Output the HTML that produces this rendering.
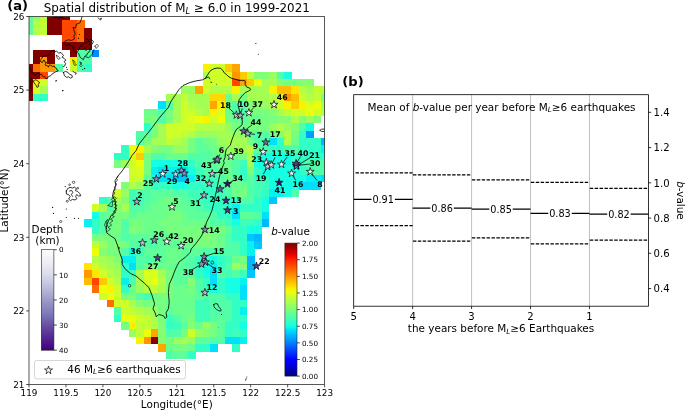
<!DOCTYPE html><html><head><meta charset="utf-8"><title>Figure</title>
<style>html,body{margin:0;padding:0;background:#fff}svg{display:block}text{font-family:"DejaVu Sans","Liberation Sans",sans-serif;fill:#000}.b{font-weight:bold}.i{font-style:italic}.lab{font-size:7.8px;font-weight:bold;text-anchor:middle}.tk{font-size:10.1px}</style></head><body>
<svg width="685" height="411" viewBox="0 0 685 411">
<defs><clipPath id="ax"><rect x="29.00" y="16.50" width="295.60" height="368.00"/></clipPath>
<linearGradient id="purp" x1="0" y1="0" x2="0" y2="1"><stop offset="0" stop-color="#fcfbfd"/><stop offset="0.125" stop-color="#efedf5"/><stop offset="0.25" stop-color="#dadaeb"/><stop offset="0.375" stop-color="#bcbddc"/><stop offset="0.5" stop-color="#9e9ac8"/><stop offset="0.625" stop-color="#807dba"/><stop offset="0.75" stop-color="#6a51a3"/><stop offset="0.875" stop-color="#54278f"/><stop offset="1" stop-color="#3f007d"/></linearGradient>
<linearGradient id="jet" x1="0" y1="0" x2="0" y2="1"><stop offset="0.000" stop-color="rgb(128,0,0)"/><stop offset="0.025" stop-color="rgb(156,0,0)"/><stop offset="0.050" stop-color="rgb(185,0,0)"/><stop offset="0.075" stop-color="rgb(214,0,0)"/><stop offset="0.100" stop-color="rgb(243,9,0)"/><stop offset="0.125" stop-color="rgb(255,33,0)"/><stop offset="0.150" stop-color="rgb(255,57,0)"/><stop offset="0.175" stop-color="rgb(255,80,0)"/><stop offset="0.200" stop-color="rgb(255,104,0)"/><stop offset="0.225" stop-color="rgb(255,128,0)"/><stop offset="0.250" stop-color="rgb(255,151,0)"/><stop offset="0.275" stop-color="rgb(255,175,0)"/><stop offset="0.300" stop-color="rgb(255,198,0)"/><stop offset="0.325" stop-color="rgb(255,222,0)"/><stop offset="0.350" stop-color="rgb(247,246,0)"/><stop offset="0.375" stop-color="rgb(226,255,21)"/><stop offset="0.400" stop-color="rgb(206,255,41)"/><stop offset="0.425" stop-color="rgb(185,255,62)"/><stop offset="0.450" stop-color="rgb(165,255,82)"/><stop offset="0.475" stop-color="rgb(144,255,103)"/><stop offset="0.500" stop-color="rgb(123,255,123)"/><stop offset="0.525" stop-color="rgb(103,255,144)"/><stop offset="0.550" stop-color="rgb(82,255,165)"/><stop offset="0.575" stop-color="rgb(62,255,185)"/><stop offset="0.600" stop-color="rgb(41,255,206)"/><stop offset="0.625" stop-color="rgb(21,255,226)"/><stop offset="0.650" stop-color="rgb(0,229,247)"/><stop offset="0.675" stop-color="rgb(0,204,255)"/><stop offset="0.700" stop-color="rgb(0,178,255)"/><stop offset="0.725" stop-color="rgb(0,153,255)"/><stop offset="0.750" stop-color="rgb(0,128,255)"/><stop offset="0.775" stop-color="rgb(0,102,255)"/><stop offset="0.800" stop-color="rgb(0,76,255)"/><stop offset="0.825" stop-color="rgb(0,51,255)"/><stop offset="0.850" stop-color="rgb(0,25,255)"/><stop offset="0.875" stop-color="rgb(0,0,255)"/><stop offset="0.900" stop-color="rgb(0,0,243)"/><stop offset="0.925" stop-color="rgb(0,0,214)"/><stop offset="0.950" stop-color="rgb(0,0,185)"/><stop offset="0.975" stop-color="rgb(0,0,156)"/><stop offset="1.000" stop-color="rgb(0,0,128)"/></linearGradient>
<path id="st" d="M0,-4.2 L0.94,-1.3 L3.99,-1.3 L1.52,0.5 L2.47,3.4 L0,1.6 L-2.47,3.4 L-1.52,0.5 L-3.99,-1.3 L-0.94,-1.3 Z"/>
</defs>
<rect width="685" height="411" fill="#fff"/>
<g clip-path="url(#ax)" shape-rendering="crispEdges">
<rect x="25.30" y="12.82" width="7.64" height="7.61" fill="rgb(93,255,154)"/>
<rect x="32.70" y="12.82" width="7.64" height="7.61" fill="rgb(132,255,115)"/>
<rect x="40.09" y="12.82" width="7.64" height="7.61" fill="rgb(193,255,53)"/>
<rect x="47.48" y="12.82" width="7.64" height="7.61" fill="rgb(128,0,0)"/>
<rect x="54.87" y="12.82" width="7.64" height="7.61" fill="rgb(128,0,0)"/>
<rect x="62.26" y="12.82" width="7.64" height="7.61" fill="rgb(128,0,0)"/>
<rect x="25.30" y="20.18" width="7.64" height="7.61" fill="rgb(93,255,154)"/>
<rect x="32.70" y="20.18" width="7.64" height="7.61" fill="rgb(177,255,70)"/>
<rect x="40.09" y="20.18" width="7.64" height="7.61" fill="rgb(193,255,53)"/>
<rect x="47.48" y="20.18" width="7.64" height="7.61" fill="rgb(128,0,0)"/>
<rect x="54.87" y="20.18" width="7.64" height="7.61" fill="rgb(128,0,0)"/>
<rect x="62.26" y="20.18" width="7.64" height="7.61" fill="rgb(255,71,0)"/>
<rect x="69.65" y="20.18" width="7.64" height="7.61" fill="rgb(255,71,0)"/>
<rect x="77.03" y="20.18" width="7.64" height="7.61" fill="rgb(255,109,0)"/>
<rect x="25.30" y="27.54" width="7.64" height="7.61" fill="rgb(93,255,154)"/>
<rect x="32.70" y="27.54" width="7.64" height="7.61" fill="rgb(177,255,70)"/>
<rect x="40.09" y="27.54" width="7.64" height="7.61" fill="rgb(193,255,53)"/>
<rect x="47.48" y="27.54" width="7.64" height="7.61" fill="rgb(128,0,0)"/>
<rect x="54.87" y="27.54" width="7.64" height="7.61" fill="rgb(128,0,0)"/>
<rect x="62.26" y="27.54" width="7.64" height="7.61" fill="rgb(255,71,0)"/>
<rect x="69.65" y="27.54" width="7.64" height="7.61" fill="rgb(255,71,0)"/>
<rect x="77.03" y="27.54" width="7.64" height="7.61" fill="rgb(255,109,0)"/>
<rect x="84.43" y="27.54" width="7.64" height="7.61" fill="rgb(128,0,0)"/>
<rect x="62.26" y="34.90" width="7.64" height="7.61" fill="rgb(255,71,0)"/>
<rect x="69.65" y="34.90" width="7.64" height="7.61" fill="rgb(255,71,0)"/>
<rect x="77.03" y="34.90" width="7.64" height="7.61" fill="rgb(255,109,0)"/>
<rect x="84.43" y="34.90" width="7.64" height="7.61" fill="rgb(128,0,0)"/>
<rect x="62.26" y="42.26" width="7.64" height="7.61" fill="rgb(128,0,0)"/>
<rect x="69.65" y="42.26" width="7.64" height="7.61" fill="rgb(128,0,0)"/>
<rect x="77.03" y="42.26" width="7.64" height="7.61" fill="rgb(128,0,0)"/>
<rect x="84.43" y="42.26" width="7.64" height="7.61" fill="rgb(128,0,0)"/>
<rect x="32.70" y="49.62" width="7.64" height="7.61" fill="rgb(128,0,0)"/>
<rect x="40.09" y="49.62" width="7.64" height="7.61" fill="rgb(128,0,0)"/>
<rect x="47.48" y="49.62" width="7.64" height="7.61" fill="rgb(128,0,0)"/>
<rect x="69.65" y="49.62" width="7.64" height="7.61" fill="rgb(128,0,0)"/>
<rect x="77.03" y="49.62" width="7.64" height="7.61" fill="rgb(80,255,167)"/>
<rect x="84.43" y="49.62" width="7.64" height="7.61" fill="rgb(80,255,167)"/>
<rect x="91.81" y="49.62" width="7.64" height="7.61" fill="rgb(0,140,255)"/>
<rect x="32.70" y="56.98" width="7.64" height="7.61" fill="rgb(128,0,0)"/>
<rect x="40.09" y="56.98" width="7.64" height="7.61" fill="rgb(255,151,0)"/>
<rect x="47.48" y="56.98" width="7.64" height="7.61" fill="rgb(128,0,0)"/>
<rect x="69.65" y="56.98" width="7.64" height="7.61" fill="rgb(249,243,0)"/>
<rect x="77.03" y="56.98" width="7.64" height="7.61" fill="rgb(80,255,167)"/>
<rect x="84.43" y="56.98" width="7.64" height="7.61" fill="rgb(80,255,167)"/>
<rect x="25.30" y="64.34" width="7.64" height="7.61" fill="rgb(128,0,0)"/>
<rect x="32.70" y="64.34" width="7.64" height="7.61" fill="rgb(255,109,0)"/>
<rect x="40.09" y="64.34" width="7.64" height="7.61" fill="rgb(255,151,0)"/>
<rect x="47.48" y="64.34" width="7.64" height="7.61" fill="rgb(255,151,0)"/>
<rect x="54.87" y="64.34" width="7.64" height="7.61" fill="rgb(80,255,167)"/>
<rect x="69.65" y="64.34" width="7.64" height="7.61" fill="rgb(206,255,41)"/>
<rect x="77.03" y="64.34" width="7.64" height="7.61" fill="rgb(80,255,167)"/>
<rect x="84.43" y="64.34" width="7.64" height="7.61" fill="rgb(49,255,197)"/>
<rect x="202.67" y="64.34" width="7.64" height="7.61" fill="rgb(249,243,0)"/>
<rect x="210.06" y="64.34" width="7.64" height="7.61" fill="rgb(206,255,41)"/>
<rect x="217.45" y="64.34" width="7.64" height="7.61" fill="rgb(206,255,41)"/>
<rect x="224.84" y="64.34" width="7.64" height="7.61" fill="rgb(255,203,0)"/>
<rect x="232.23" y="64.34" width="7.64" height="7.61" fill="rgb(255,165,0)"/>
<rect x="25.30" y="71.70" width="7.64" height="7.61" fill="rgb(128,0,0)"/>
<rect x="32.70" y="71.70" width="7.64" height="7.61" fill="rgb(128,0,0)"/>
<rect x="40.09" y="71.70" width="7.64" height="7.61" fill="rgb(255,71,0)"/>
<rect x="202.67" y="71.70" width="7.64" height="7.61" fill="rgb(165,255,82)"/>
<rect x="210.06" y="71.70" width="7.64" height="7.61" fill="rgb(206,255,41)"/>
<rect x="217.45" y="71.70" width="7.64" height="7.61" fill="rgb(206,255,41)"/>
<rect x="224.84" y="71.70" width="7.64" height="7.61" fill="rgb(218,255,29)"/>
<rect x="232.23" y="71.70" width="7.64" height="7.61" fill="rgb(255,151,0)"/>
<rect x="239.62" y="71.70" width="7.64" height="7.61" fill="rgb(255,203,0)"/>
<rect x="247.01" y="71.70" width="7.64" height="7.61" fill="rgb(193,255,53)"/>
<rect x="254.40" y="71.70" width="7.64" height="7.61" fill="rgb(132,255,115)"/>
<rect x="261.79" y="71.70" width="7.64" height="7.61" fill="rgb(132,255,115)"/>
<rect x="269.18" y="71.70" width="7.64" height="7.61" fill="rgb(152,255,95)"/>
<rect x="276.57" y="71.70" width="7.64" height="7.61" fill="rgb(80,255,167)"/>
<rect x="283.96" y="71.70" width="7.64" height="7.61" fill="rgb(21,255,226)"/>
<rect x="25.30" y="79.06" width="7.64" height="7.61" fill="rgb(128,0,0)"/>
<rect x="32.70" y="79.06" width="7.64" height="7.61" fill="rgb(249,243,0)"/>
<rect x="40.09" y="79.06" width="7.64" height="7.61" fill="rgb(206,255,41)"/>
<rect x="202.67" y="79.06" width="7.64" height="7.61" fill="rgb(206,255,41)"/>
<rect x="210.06" y="79.06" width="7.64" height="7.61" fill="rgb(206,255,41)"/>
<rect x="217.45" y="79.06" width="7.64" height="7.61" fill="rgb(206,255,41)"/>
<rect x="224.84" y="79.06" width="7.64" height="7.61" fill="rgb(206,255,41)"/>
<rect x="232.23" y="79.06" width="7.64" height="7.61" fill="rgb(255,71,0)"/>
<rect x="239.62" y="79.06" width="7.64" height="7.61" fill="rgb(255,165,0)"/>
<rect x="247.01" y="79.06" width="7.64" height="7.61" fill="rgb(255,203,0)"/>
<rect x="254.40" y="79.06" width="7.64" height="7.61" fill="rgb(236,255,10)"/>
<rect x="261.79" y="79.06" width="7.64" height="7.61" fill="rgb(165,255,82)"/>
<rect x="269.18" y="79.06" width="7.64" height="7.61" fill="rgb(165,255,82)"/>
<rect x="276.57" y="79.06" width="7.64" height="7.61" fill="rgb(132,255,115)"/>
<rect x="283.96" y="79.06" width="7.64" height="7.61" fill="rgb(119,255,128)"/>
<rect x="291.35" y="79.06" width="7.64" height="7.61" fill="rgb(119,255,128)"/>
<rect x="298.74" y="79.06" width="7.64" height="7.61" fill="rgb(132,255,115)"/>
<rect x="306.12" y="79.06" width="7.64" height="7.61" fill="rgb(132,255,115)"/>
<rect x="25.30" y="86.42" width="7.64" height="7.61" fill="rgb(128,0,0)"/>
<rect x="32.70" y="86.42" width="7.64" height="7.61" fill="rgb(218,255,29)"/>
<rect x="40.09" y="86.42" width="7.64" height="7.61" fill="rgb(165,255,82)"/>
<rect x="180.50" y="86.42" width="7.64" height="7.61" fill="rgb(152,255,95)"/>
<rect x="187.89" y="86.42" width="7.64" height="7.61" fill="rgb(152,255,95)"/>
<rect x="195.28" y="86.42" width="7.64" height="7.61" fill="rgb(255,165,0)"/>
<rect x="202.67" y="86.42" width="7.64" height="7.61" fill="rgb(206,255,41)"/>
<rect x="210.06" y="86.42" width="7.64" height="7.61" fill="rgb(177,255,70)"/>
<rect x="217.45" y="86.42" width="7.64" height="7.61" fill="rgb(177,255,70)"/>
<rect x="224.84" y="86.42" width="7.64" height="7.61" fill="rgb(177,255,70)"/>
<rect x="232.23" y="86.42" width="7.64" height="7.61" fill="rgb(249,243,0)"/>
<rect x="239.62" y="86.42" width="7.64" height="7.61" fill="rgb(165,255,82)"/>
<rect x="247.01" y="86.42" width="7.64" height="7.61" fill="rgb(165,255,82)"/>
<rect x="254.40" y="86.42" width="7.64" height="7.61" fill="rgb(165,255,82)"/>
<rect x="261.79" y="86.42" width="7.64" height="7.61" fill="rgb(165,255,82)"/>
<rect x="269.18" y="86.42" width="7.64" height="7.61" fill="rgb(249,243,0)"/>
<rect x="276.57" y="86.42" width="7.64" height="7.61" fill="rgb(255,189,0)"/>
<rect x="283.96" y="86.42" width="7.64" height="7.61" fill="rgb(255,189,0)"/>
<rect x="291.35" y="86.42" width="7.64" height="7.61" fill="rgb(255,229,0)"/>
<rect x="298.74" y="86.42" width="7.64" height="7.61" fill="rgb(177,255,70)"/>
<rect x="306.12" y="86.42" width="7.64" height="7.61" fill="rgb(165,255,82)"/>
<rect x="313.52" y="86.42" width="7.64" height="7.61" fill="rgb(193,255,53)"/>
<rect x="320.91" y="86.42" width="7.64" height="7.61" fill="rgb(177,255,70)"/>
<rect x="25.30" y="93.78" width="7.64" height="7.61" fill="rgb(128,0,0)"/>
<rect x="32.70" y="93.78" width="7.64" height="7.61" fill="rgb(49,255,197)"/>
<rect x="40.09" y="93.78" width="7.64" height="7.61" fill="rgb(49,255,197)"/>
<rect x="165.72" y="93.78" width="7.64" height="7.61" fill="rgb(165,255,82)"/>
<rect x="173.11" y="93.78" width="7.64" height="7.61" fill="rgb(165,255,82)"/>
<rect x="180.50" y="93.78" width="7.64" height="7.61" fill="rgb(193,255,53)"/>
<rect x="187.89" y="93.78" width="7.64" height="7.61" fill="rgb(165,255,82)"/>
<rect x="195.28" y="93.78" width="7.64" height="7.61" fill="rgb(165,255,82)"/>
<rect x="202.67" y="93.78" width="7.64" height="7.61" fill="rgb(165,255,82)"/>
<rect x="210.06" y="93.78" width="7.64" height="7.61" fill="rgb(255,217,0)"/>
<rect x="217.45" y="93.78" width="7.64" height="7.61" fill="rgb(255,217,0)"/>
<rect x="224.84" y="93.78" width="7.64" height="7.61" fill="rgb(107,255,140)"/>
<rect x="232.23" y="93.78" width="7.64" height="7.61" fill="rgb(165,255,82)"/>
<rect x="239.62" y="93.78" width="7.64" height="7.61" fill="rgb(119,255,128)"/>
<rect x="247.01" y="93.78" width="7.64" height="7.61" fill="rgb(165,255,82)"/>
<rect x="254.40" y="93.78" width="7.64" height="7.61" fill="rgb(165,255,82)"/>
<rect x="261.79" y="93.78" width="7.64" height="7.61" fill="rgb(165,255,82)"/>
<rect x="269.18" y="93.78" width="7.64" height="7.61" fill="rgb(177,255,70)"/>
<rect x="276.57" y="93.78" width="7.64" height="7.61" fill="rgb(218,255,29)"/>
<rect x="283.96" y="93.78" width="7.64" height="7.61" fill="rgb(255,151,0)"/>
<rect x="291.35" y="93.78" width="7.64" height="7.61" fill="rgb(255,189,0)"/>
<rect x="298.74" y="93.78" width="7.64" height="7.61" fill="rgb(206,255,41)"/>
<rect x="306.12" y="93.78" width="7.64" height="7.61" fill="rgb(177,255,70)"/>
<rect x="313.52" y="93.78" width="7.64" height="7.61" fill="rgb(193,255,53)"/>
<rect x="320.91" y="93.78" width="7.64" height="7.61" fill="rgb(119,255,128)"/>
<rect x="158.33" y="101.14" width="7.64" height="7.61" fill="rgb(0,224,251)"/>
<rect x="165.72" y="101.14" width="7.64" height="7.61" fill="rgb(80,255,167)"/>
<rect x="173.11" y="101.14" width="7.64" height="7.61" fill="rgb(165,255,82)"/>
<rect x="180.50" y="101.14" width="7.64" height="7.61" fill="rgb(206,255,41)"/>
<rect x="187.89" y="101.14" width="7.64" height="7.61" fill="rgb(177,255,70)"/>
<rect x="195.28" y="101.14" width="7.64" height="7.61" fill="rgb(165,255,82)"/>
<rect x="202.67" y="101.14" width="7.64" height="7.61" fill="rgb(165,255,82)"/>
<rect x="210.06" y="101.14" width="7.64" height="7.61" fill="rgb(255,165,0)"/>
<rect x="217.45" y="101.14" width="7.64" height="7.61" fill="rgb(249,243,0)"/>
<rect x="224.84" y="101.14" width="7.64" height="7.61" fill="rgb(107,255,140)"/>
<rect x="232.23" y="101.14" width="7.64" height="7.61" fill="rgb(80,255,167)"/>
<rect x="239.62" y="101.14" width="7.64" height="7.61" fill="rgb(80,255,167)"/>
<rect x="247.01" y="101.14" width="7.64" height="7.61" fill="rgb(132,255,115)"/>
<rect x="254.40" y="101.14" width="7.64" height="7.61" fill="rgb(132,255,115)"/>
<rect x="261.79" y="101.14" width="7.64" height="7.61" fill="rgb(152,255,95)"/>
<rect x="269.18" y="101.14" width="7.64" height="7.61" fill="rgb(165,255,82)"/>
<rect x="276.57" y="101.14" width="7.64" height="7.61" fill="rgb(206,255,41)"/>
<rect x="283.96" y="101.14" width="7.64" height="7.61" fill="rgb(249,243,0)"/>
<rect x="291.35" y="101.14" width="7.64" height="7.61" fill="rgb(255,203,0)"/>
<rect x="298.74" y="101.14" width="7.64" height="7.61" fill="rgb(249,243,0)"/>
<rect x="306.12" y="101.14" width="7.64" height="7.61" fill="rgb(218,255,29)"/>
<rect x="313.52" y="101.14" width="7.64" height="7.61" fill="rgb(236,255,10)"/>
<rect x="320.91" y="101.14" width="7.64" height="7.61" fill="rgb(165,255,82)"/>
<rect x="143.55" y="108.50" width="7.64" height="7.61" fill="rgb(107,255,140)"/>
<rect x="150.94" y="108.50" width="7.64" height="7.61" fill="rgb(107,255,140)"/>
<rect x="158.33" y="108.50" width="7.64" height="7.61" fill="rgb(80,255,167)"/>
<rect x="165.72" y="108.50" width="7.64" height="7.61" fill="rgb(119,255,128)"/>
<rect x="173.11" y="108.50" width="7.64" height="7.61" fill="rgb(165,255,82)"/>
<rect x="180.50" y="108.50" width="7.64" height="7.61" fill="rgb(206,255,41)"/>
<rect x="187.89" y="108.50" width="7.64" height="7.61" fill="rgb(206,255,41)"/>
<rect x="195.28" y="108.50" width="7.64" height="7.61" fill="rgb(177,255,70)"/>
<rect x="202.67" y="108.50" width="7.64" height="7.61" fill="rgb(165,255,82)"/>
<rect x="210.06" y="108.50" width="7.64" height="7.61" fill="rgb(249,243,0)"/>
<rect x="217.45" y="108.50" width="7.64" height="7.61" fill="rgb(218,255,29)"/>
<rect x="224.84" y="108.50" width="7.64" height="7.61" fill="rgb(107,255,140)"/>
<rect x="232.23" y="108.50" width="7.64" height="7.61" fill="rgb(80,255,167)"/>
<rect x="239.62" y="108.50" width="7.64" height="7.61" fill="rgb(80,255,167)"/>
<rect x="247.01" y="108.50" width="7.64" height="7.61" fill="rgb(119,255,128)"/>
<rect x="254.40" y="108.50" width="7.64" height="7.61" fill="rgb(119,255,128)"/>
<rect x="261.79" y="108.50" width="7.64" height="7.61" fill="rgb(119,255,128)"/>
<rect x="269.18" y="108.50" width="7.64" height="7.61" fill="rgb(132,255,115)"/>
<rect x="276.57" y="108.50" width="7.64" height="7.61" fill="rgb(165,255,82)"/>
<rect x="283.96" y="108.50" width="7.64" height="7.61" fill="rgb(193,255,53)"/>
<rect x="291.35" y="108.50" width="7.64" height="7.61" fill="rgb(206,255,41)"/>
<rect x="298.74" y="108.50" width="7.64" height="7.61" fill="rgb(206,255,41)"/>
<rect x="306.12" y="108.50" width="7.64" height="7.61" fill="rgb(236,255,10)"/>
<rect x="313.52" y="108.50" width="7.64" height="7.61" fill="rgb(206,255,41)"/>
<rect x="320.91" y="108.50" width="7.64" height="7.61" fill="rgb(177,255,70)"/>
<rect x="143.55" y="115.86" width="7.64" height="7.61" fill="rgb(119,255,128)"/>
<rect x="150.94" y="115.86" width="7.64" height="7.61" fill="rgb(119,255,128)"/>
<rect x="158.33" y="115.86" width="7.64" height="7.61" fill="rgb(80,255,167)"/>
<rect x="165.72" y="115.86" width="7.64" height="7.61" fill="rgb(119,255,128)"/>
<rect x="173.11" y="115.86" width="7.64" height="7.61" fill="rgb(165,255,82)"/>
<rect x="180.50" y="115.86" width="7.64" height="7.61" fill="rgb(206,255,41)"/>
<rect x="187.89" y="115.86" width="7.64" height="7.61" fill="rgb(218,255,29)"/>
<rect x="195.28" y="115.86" width="7.64" height="7.61" fill="rgb(236,255,10)"/>
<rect x="202.67" y="115.86" width="7.64" height="7.61" fill="rgb(249,243,0)"/>
<rect x="210.06" y="115.86" width="7.64" height="7.61" fill="rgb(206,255,41)"/>
<rect x="217.45" y="115.86" width="7.64" height="7.61" fill="rgb(236,255,10)"/>
<rect x="224.84" y="115.86" width="7.64" height="7.61" fill="rgb(119,255,128)"/>
<rect x="232.23" y="115.86" width="7.64" height="7.61" fill="rgb(107,255,140)"/>
<rect x="239.62" y="115.86" width="7.64" height="7.61" fill="rgb(93,255,154)"/>
<rect x="247.01" y="115.86" width="7.64" height="7.61" fill="rgb(107,255,140)"/>
<rect x="254.40" y="115.86" width="7.64" height="7.61" fill="rgb(107,255,140)"/>
<rect x="261.79" y="115.86" width="7.64" height="7.61" fill="rgb(119,255,128)"/>
<rect x="269.18" y="115.86" width="7.64" height="7.61" fill="rgb(119,255,128)"/>
<rect x="276.57" y="115.86" width="7.64" height="7.61" fill="rgb(132,255,115)"/>
<rect x="283.96" y="115.86" width="7.64" height="7.61" fill="rgb(132,255,115)"/>
<rect x="291.35" y="115.86" width="7.64" height="7.61" fill="rgb(177,255,70)"/>
<rect x="298.74" y="115.86" width="7.64" height="7.61" fill="rgb(132,255,115)"/>
<rect x="306.12" y="115.86" width="7.64" height="7.61" fill="rgb(152,255,95)"/>
<rect x="313.52" y="115.86" width="7.64" height="7.61" fill="rgb(132,255,115)"/>
<rect x="143.55" y="123.22" width="7.64" height="7.61" fill="rgb(49,255,197)"/>
<rect x="150.94" y="123.22" width="7.64" height="7.61" fill="rgb(119,255,128)"/>
<rect x="158.33" y="123.22" width="7.64" height="7.61" fill="rgb(165,255,82)"/>
<rect x="165.72" y="123.22" width="7.64" height="7.61" fill="rgb(206,255,41)"/>
<rect x="173.11" y="123.22" width="7.64" height="7.61" fill="rgb(206,255,41)"/>
<rect x="180.50" y="123.22" width="7.64" height="7.61" fill="rgb(206,255,41)"/>
<rect x="187.89" y="123.22" width="7.64" height="7.61" fill="rgb(206,255,41)"/>
<rect x="195.28" y="123.22" width="7.64" height="7.61" fill="rgb(177,255,70)"/>
<rect x="202.67" y="123.22" width="7.64" height="7.61" fill="rgb(177,255,70)"/>
<rect x="210.06" y="123.22" width="7.64" height="7.61" fill="rgb(177,255,70)"/>
<rect x="217.45" y="123.22" width="7.64" height="7.61" fill="rgb(177,255,70)"/>
<rect x="224.84" y="123.22" width="7.64" height="7.61" fill="rgb(152,255,95)"/>
<rect x="232.23" y="123.22" width="7.64" height="7.61" fill="rgb(119,255,128)"/>
<rect x="239.62" y="123.22" width="7.64" height="7.61" fill="rgb(107,255,140)"/>
<rect x="247.01" y="123.22" width="7.64" height="7.61" fill="rgb(119,255,128)"/>
<rect x="254.40" y="123.22" width="7.64" height="7.61" fill="rgb(119,255,128)"/>
<rect x="261.79" y="123.22" width="7.64" height="7.61" fill="rgb(119,255,128)"/>
<rect x="269.18" y="123.22" width="7.64" height="7.61" fill="rgb(152,255,95)"/>
<rect x="276.57" y="123.22" width="7.64" height="7.61" fill="rgb(177,255,70)"/>
<rect x="283.96" y="123.22" width="7.64" height="7.61" fill="rgb(152,255,95)"/>
<rect x="291.35" y="123.22" width="7.64" height="7.61" fill="rgb(132,255,115)"/>
<rect x="298.74" y="123.22" width="7.64" height="7.61" fill="rgb(80,255,167)"/>
<rect x="306.12" y="123.22" width="7.64" height="7.61" fill="rgb(21,255,226)"/>
<rect x="136.16" y="130.58" width="7.64" height="7.61" fill="rgb(80,255,167)"/>
<rect x="143.55" y="130.58" width="7.64" height="7.61" fill="rgb(93,255,154)"/>
<rect x="150.94" y="130.58" width="7.64" height="7.61" fill="rgb(119,255,128)"/>
<rect x="158.33" y="130.58" width="7.64" height="7.61" fill="rgb(165,255,82)"/>
<rect x="165.72" y="130.58" width="7.64" height="7.61" fill="rgb(206,255,41)"/>
<rect x="173.11" y="130.58" width="7.64" height="7.61" fill="rgb(206,255,41)"/>
<rect x="180.50" y="130.58" width="7.64" height="7.61" fill="rgb(193,255,53)"/>
<rect x="187.89" y="130.58" width="7.64" height="7.61" fill="rgb(177,255,70)"/>
<rect x="195.28" y="130.58" width="7.64" height="7.61" fill="rgb(152,255,95)"/>
<rect x="202.67" y="130.58" width="7.64" height="7.61" fill="rgb(152,255,95)"/>
<rect x="210.06" y="130.58" width="7.64" height="7.61" fill="rgb(152,255,95)"/>
<rect x="217.45" y="130.58" width="7.64" height="7.61" fill="rgb(165,255,82)"/>
<rect x="224.84" y="130.58" width="7.64" height="7.61" fill="rgb(165,255,82)"/>
<rect x="232.23" y="130.58" width="7.64" height="7.61" fill="rgb(152,255,95)"/>
<rect x="239.62" y="130.58" width="7.64" height="7.61" fill="rgb(152,255,95)"/>
<rect x="247.01" y="130.58" width="7.64" height="7.61" fill="rgb(93,255,154)"/>
<rect x="254.40" y="130.58" width="7.64" height="7.61" fill="rgb(80,255,167)"/>
<rect x="261.79" y="130.58" width="7.64" height="7.61" fill="rgb(80,255,167)"/>
<rect x="269.18" y="130.58" width="7.64" height="7.61" fill="rgb(119,255,128)"/>
<rect x="276.57" y="130.58" width="7.64" height="7.61" fill="rgb(132,255,115)"/>
<rect x="283.96" y="130.58" width="7.64" height="7.61" fill="rgb(177,255,70)"/>
<rect x="291.35" y="130.58" width="7.64" height="7.61" fill="rgb(119,255,128)"/>
<rect x="298.74" y="130.58" width="7.64" height="7.61" fill="rgb(49,255,197)"/>
<rect x="306.12" y="130.58" width="7.64" height="7.61" fill="rgb(0,156,255)"/>
<rect x="136.16" y="137.94" width="7.64" height="7.61" fill="rgb(80,255,167)"/>
<rect x="143.55" y="137.94" width="7.64" height="7.61" fill="rgb(119,255,128)"/>
<rect x="150.94" y="137.94" width="7.64" height="7.61" fill="rgb(165,255,82)"/>
<rect x="158.33" y="137.94" width="7.64" height="7.61" fill="rgb(165,255,82)"/>
<rect x="165.72" y="137.94" width="7.64" height="7.61" fill="rgb(193,255,53)"/>
<rect x="173.11" y="137.94" width="7.64" height="7.61" fill="rgb(177,255,70)"/>
<rect x="180.50" y="137.94" width="7.64" height="7.61" fill="rgb(165,255,82)"/>
<rect x="187.89" y="137.94" width="7.64" height="7.61" fill="rgb(119,255,128)"/>
<rect x="195.28" y="137.94" width="7.64" height="7.61" fill="rgb(93,255,154)"/>
<rect x="202.67" y="137.94" width="7.64" height="7.61" fill="rgb(107,255,140)"/>
<rect x="210.06" y="137.94" width="7.64" height="7.61" fill="rgb(119,255,128)"/>
<rect x="217.45" y="137.94" width="7.64" height="7.61" fill="rgb(152,255,95)"/>
<rect x="224.84" y="137.94" width="7.64" height="7.61" fill="rgb(165,255,82)"/>
<rect x="232.23" y="137.94" width="7.64" height="7.61" fill="rgb(165,255,82)"/>
<rect x="239.62" y="137.94" width="7.64" height="7.61" fill="rgb(165,255,82)"/>
<rect x="247.01" y="137.94" width="7.64" height="7.61" fill="rgb(119,255,128)"/>
<rect x="254.40" y="137.94" width="7.64" height="7.61" fill="rgb(80,255,167)"/>
<rect x="261.79" y="137.94" width="7.64" height="7.61" fill="rgb(80,255,167)"/>
<rect x="269.18" y="137.94" width="7.64" height="7.61" fill="rgb(0,224,251)"/>
<rect x="276.57" y="137.94" width="7.64" height="7.61" fill="rgb(49,255,197)"/>
<rect x="283.96" y="137.94" width="7.64" height="7.61" fill="rgb(177,255,70)"/>
<rect x="291.35" y="137.94" width="7.64" height="7.61" fill="rgb(107,255,140)"/>
<rect x="298.74" y="137.94" width="7.64" height="7.61" fill="rgb(49,255,197)"/>
<rect x="306.12" y="137.94" width="7.64" height="7.61" fill="rgb(49,255,197)"/>
<rect x="313.52" y="137.94" width="7.64" height="7.61" fill="rgb(49,255,197)"/>
<rect x="320.91" y="137.94" width="7.64" height="7.61" fill="rgb(0,184,255)"/>
<rect x="121.38" y="145.30" width="7.64" height="7.61" fill="rgb(49,255,197)"/>
<rect x="128.77" y="145.30" width="7.64" height="7.61" fill="rgb(236,255,10)"/>
<rect x="136.16" y="145.30" width="7.64" height="7.61" fill="rgb(249,243,0)"/>
<rect x="143.55" y="145.30" width="7.64" height="7.61" fill="rgb(165,255,82)"/>
<rect x="150.94" y="145.30" width="7.64" height="7.61" fill="rgb(132,255,115)"/>
<rect x="158.33" y="145.30" width="7.64" height="7.61" fill="rgb(119,255,128)"/>
<rect x="165.72" y="145.30" width="7.64" height="7.61" fill="rgb(119,255,128)"/>
<rect x="173.11" y="145.30" width="7.64" height="7.61" fill="rgb(152,255,95)"/>
<rect x="180.50" y="145.30" width="7.64" height="7.61" fill="rgb(152,255,95)"/>
<rect x="187.89" y="145.30" width="7.64" height="7.61" fill="rgb(119,255,128)"/>
<rect x="195.28" y="145.30" width="7.64" height="7.61" fill="rgb(93,255,154)"/>
<rect x="202.67" y="145.30" width="7.64" height="7.61" fill="rgb(93,255,154)"/>
<rect x="210.06" y="145.30" width="7.64" height="7.61" fill="rgb(107,255,140)"/>
<rect x="217.45" y="145.30" width="7.64" height="7.61" fill="rgb(132,255,115)"/>
<rect x="224.84" y="145.30" width="7.64" height="7.61" fill="rgb(152,255,95)"/>
<rect x="232.23" y="145.30" width="7.64" height="7.61" fill="rgb(152,255,95)"/>
<rect x="239.62" y="145.30" width="7.64" height="7.61" fill="rgb(165,255,82)"/>
<rect x="247.01" y="145.30" width="7.64" height="7.61" fill="rgb(177,255,70)"/>
<rect x="254.40" y="145.30" width="7.64" height="7.61" fill="rgb(93,255,154)"/>
<rect x="261.79" y="145.30" width="7.64" height="7.61" fill="rgb(68,255,179)"/>
<rect x="269.18" y="145.30" width="7.64" height="7.61" fill="rgb(49,255,197)"/>
<rect x="276.57" y="145.30" width="7.64" height="7.61" fill="rgb(49,255,197)"/>
<rect x="283.96" y="145.30" width="7.64" height="7.61" fill="rgb(80,255,167)"/>
<rect x="291.35" y="145.30" width="7.64" height="7.61" fill="rgb(80,255,167)"/>
<rect x="298.74" y="145.30" width="7.64" height="7.61" fill="rgb(49,255,197)"/>
<rect x="306.12" y="145.30" width="7.64" height="7.61" fill="rgb(49,255,197)"/>
<rect x="313.52" y="145.30" width="7.64" height="7.61" fill="rgb(49,255,197)"/>
<rect x="320.91" y="145.30" width="7.64" height="7.61" fill="rgb(8,240,239)"/>
<rect x="113.99" y="152.66" width="7.64" height="7.61" fill="rgb(49,255,197)"/>
<rect x="121.38" y="152.66" width="7.64" height="7.61" fill="rgb(49,255,197)"/>
<rect x="128.77" y="152.66" width="7.64" height="7.61" fill="rgb(218,255,29)"/>
<rect x="136.16" y="152.66" width="7.64" height="7.61" fill="rgb(255,203,0)"/>
<rect x="143.55" y="152.66" width="7.64" height="7.61" fill="rgb(119,255,128)"/>
<rect x="150.94" y="152.66" width="7.64" height="7.61" fill="rgb(80,255,167)"/>
<rect x="158.33" y="152.66" width="7.64" height="7.61" fill="rgb(80,255,167)"/>
<rect x="165.72" y="152.66" width="7.64" height="7.61" fill="rgb(107,255,140)"/>
<rect x="173.11" y="152.66" width="7.64" height="7.61" fill="rgb(107,255,140)"/>
<rect x="180.50" y="152.66" width="7.64" height="7.61" fill="rgb(107,255,140)"/>
<rect x="187.89" y="152.66" width="7.64" height="7.61" fill="rgb(80,255,167)"/>
<rect x="195.28" y="152.66" width="7.64" height="7.61" fill="rgb(80,255,167)"/>
<rect x="202.67" y="152.66" width="7.64" height="7.61" fill="rgb(80,255,167)"/>
<rect x="210.06" y="152.66" width="7.64" height="7.61" fill="rgb(93,255,154)"/>
<rect x="217.45" y="152.66" width="7.64" height="7.61" fill="rgb(107,255,140)"/>
<rect x="224.84" y="152.66" width="7.64" height="7.61" fill="rgb(119,255,128)"/>
<rect x="232.23" y="152.66" width="7.64" height="7.61" fill="rgb(107,255,140)"/>
<rect x="239.62" y="152.66" width="7.64" height="7.61" fill="rgb(119,255,128)"/>
<rect x="247.01" y="152.66" width="7.64" height="7.61" fill="rgb(177,255,70)"/>
<rect x="254.40" y="152.66" width="7.64" height="7.61" fill="rgb(49,255,197)"/>
<rect x="261.79" y="152.66" width="7.64" height="7.61" fill="rgb(21,255,226)"/>
<rect x="269.18" y="152.66" width="7.64" height="7.61" fill="rgb(21,255,226)"/>
<rect x="276.57" y="152.66" width="7.64" height="7.61" fill="rgb(21,255,226)"/>
<rect x="283.96" y="152.66" width="7.64" height="7.61" fill="rgb(21,255,226)"/>
<rect x="291.35" y="152.66" width="7.64" height="7.61" fill="rgb(49,255,197)"/>
<rect x="298.74" y="152.66" width="7.64" height="7.61" fill="rgb(49,255,197)"/>
<rect x="306.12" y="152.66" width="7.64" height="7.61" fill="rgb(49,255,197)"/>
<rect x="313.52" y="152.66" width="7.64" height="7.61" fill="rgb(49,255,197)"/>
<rect x="320.91" y="152.66" width="7.64" height="7.61" fill="rgb(49,255,197)"/>
<rect x="113.99" y="160.02" width="7.64" height="7.61" fill="rgb(119,255,128)"/>
<rect x="121.38" y="160.02" width="7.64" height="7.61" fill="rgb(152,255,95)"/>
<rect x="128.77" y="160.02" width="7.64" height="7.61" fill="rgb(206,255,41)"/>
<rect x="136.16" y="160.02" width="7.64" height="7.61" fill="rgb(236,255,10)"/>
<rect x="143.55" y="160.02" width="7.64" height="7.61" fill="rgb(119,255,128)"/>
<rect x="150.94" y="160.02" width="7.64" height="7.61" fill="rgb(21,255,226)"/>
<rect x="158.33" y="160.02" width="7.64" height="7.61" fill="rgb(21,255,226)"/>
<rect x="165.72" y="160.02" width="7.64" height="7.61" fill="rgb(21,255,226)"/>
<rect x="173.11" y="160.02" width="7.64" height="7.61" fill="rgb(21,255,226)"/>
<rect x="180.50" y="160.02" width="7.64" height="7.61" fill="rgb(21,255,226)"/>
<rect x="187.89" y="160.02" width="7.64" height="7.61" fill="rgb(49,255,197)"/>
<rect x="195.28" y="160.02" width="7.64" height="7.61" fill="rgb(80,255,167)"/>
<rect x="202.67" y="160.02" width="7.64" height="7.61" fill="rgb(93,255,154)"/>
<rect x="210.06" y="160.02" width="7.64" height="7.61" fill="rgb(93,255,154)"/>
<rect x="217.45" y="160.02" width="7.64" height="7.61" fill="rgb(107,255,140)"/>
<rect x="224.84" y="160.02" width="7.64" height="7.61" fill="rgb(107,255,140)"/>
<rect x="232.23" y="160.02" width="7.64" height="7.61" fill="rgb(80,255,167)"/>
<rect x="239.62" y="160.02" width="7.64" height="7.61" fill="rgb(62,255,185)"/>
<rect x="247.01" y="160.02" width="7.64" height="7.61" fill="rgb(165,255,82)"/>
<rect x="254.40" y="160.02" width="7.64" height="7.61" fill="rgb(21,255,226)"/>
<rect x="261.79" y="160.02" width="7.64" height="7.61" fill="rgb(21,255,226)"/>
<rect x="269.18" y="160.02" width="7.64" height="7.61" fill="rgb(21,255,226)"/>
<rect x="276.57" y="160.02" width="7.64" height="7.61" fill="rgb(21,255,226)"/>
<rect x="283.96" y="160.02" width="7.64" height="7.61" fill="rgb(21,255,226)"/>
<rect x="291.35" y="160.02" width="7.64" height="7.61" fill="rgb(49,255,197)"/>
<rect x="298.74" y="160.02" width="7.64" height="7.61" fill="rgb(49,255,197)"/>
<rect x="306.12" y="160.02" width="7.64" height="7.61" fill="rgb(80,255,167)"/>
<rect x="313.52" y="160.02" width="7.64" height="7.61" fill="rgb(80,255,167)"/>
<rect x="320.91" y="160.02" width="7.64" height="7.61" fill="rgb(68,255,179)"/>
<rect x="128.77" y="167.38" width="7.64" height="7.61" fill="rgb(206,255,41)"/>
<rect x="136.16" y="167.38" width="7.64" height="7.61" fill="rgb(218,255,29)"/>
<rect x="143.55" y="167.38" width="7.64" height="7.61" fill="rgb(119,255,128)"/>
<rect x="150.94" y="167.38" width="7.64" height="7.61" fill="rgb(8,240,239)"/>
<rect x="158.33" y="167.38" width="7.64" height="7.61" fill="rgb(0,224,251)"/>
<rect x="165.72" y="167.38" width="7.64" height="7.61" fill="rgb(8,240,239)"/>
<rect x="173.11" y="167.38" width="7.64" height="7.61" fill="rgb(8,240,239)"/>
<rect x="180.50" y="167.38" width="7.64" height="7.61" fill="rgb(0,224,251)"/>
<rect x="187.89" y="167.38" width="7.64" height="7.61" fill="rgb(21,255,226)"/>
<rect x="195.28" y="167.38" width="7.64" height="7.61" fill="rgb(62,255,185)"/>
<rect x="202.67" y="167.38" width="7.64" height="7.61" fill="rgb(80,255,167)"/>
<rect x="210.06" y="167.38" width="7.64" height="7.61" fill="rgb(80,255,167)"/>
<rect x="217.45" y="167.38" width="7.64" height="7.61" fill="rgb(93,255,154)"/>
<rect x="224.84" y="167.38" width="7.64" height="7.61" fill="rgb(107,255,140)"/>
<rect x="232.23" y="167.38" width="7.64" height="7.61" fill="rgb(80,255,167)"/>
<rect x="239.62" y="167.38" width="7.64" height="7.61" fill="rgb(49,255,197)"/>
<rect x="247.01" y="167.38" width="7.64" height="7.61" fill="rgb(119,255,128)"/>
<rect x="254.40" y="167.38" width="7.64" height="7.61" fill="rgb(49,255,197)"/>
<rect x="261.79" y="167.38" width="7.64" height="7.61" fill="rgb(21,255,226)"/>
<rect x="269.18" y="167.38" width="7.64" height="7.61" fill="rgb(21,255,226)"/>
<rect x="276.57" y="167.38" width="7.64" height="7.61" fill="rgb(21,255,226)"/>
<rect x="283.96" y="167.38" width="7.64" height="7.61" fill="rgb(21,255,226)"/>
<rect x="291.35" y="167.38" width="7.64" height="7.61" fill="rgb(21,255,226)"/>
<rect x="298.74" y="167.38" width="7.64" height="7.61" fill="rgb(49,255,197)"/>
<rect x="306.12" y="167.38" width="7.64" height="7.61" fill="rgb(62,255,185)"/>
<rect x="313.52" y="167.38" width="7.64" height="7.61" fill="rgb(80,255,167)"/>
<rect x="320.91" y="167.38" width="7.64" height="7.61" fill="rgb(80,255,167)"/>
<rect x="128.77" y="174.74" width="7.64" height="7.61" fill="rgb(206,255,41)"/>
<rect x="136.16" y="174.74" width="7.64" height="7.61" fill="rgb(206,255,41)"/>
<rect x="143.55" y="174.74" width="7.64" height="7.61" fill="rgb(93,255,154)"/>
<rect x="150.94" y="174.74" width="7.64" height="7.61" fill="rgb(21,255,226)"/>
<rect x="158.33" y="174.74" width="7.64" height="7.61" fill="rgb(0,224,251)"/>
<rect x="165.72" y="174.74" width="7.64" height="7.61" fill="rgb(0,224,251)"/>
<rect x="173.11" y="174.74" width="7.64" height="7.61" fill="rgb(0,199,255)"/>
<rect x="180.50" y="174.74" width="7.64" height="7.61" fill="rgb(0,199,255)"/>
<rect x="187.89" y="174.74" width="7.64" height="7.61" fill="rgb(8,240,239)"/>
<rect x="195.28" y="174.74" width="7.64" height="7.61" fill="rgb(49,255,197)"/>
<rect x="202.67" y="174.74" width="7.64" height="7.61" fill="rgb(62,255,185)"/>
<rect x="210.06" y="174.74" width="7.64" height="7.61" fill="rgb(62,255,185)"/>
<rect x="217.45" y="174.74" width="7.64" height="7.61" fill="rgb(80,255,167)"/>
<rect x="224.84" y="174.74" width="7.64" height="7.61" fill="rgb(107,255,140)"/>
<rect x="232.23" y="174.74" width="7.64" height="7.61" fill="rgb(93,255,154)"/>
<rect x="239.62" y="174.74" width="7.64" height="7.61" fill="rgb(62,255,185)"/>
<rect x="247.01" y="174.74" width="7.64" height="7.61" fill="rgb(93,255,154)"/>
<rect x="254.40" y="174.74" width="7.64" height="7.61" fill="rgb(49,255,197)"/>
<rect x="261.79" y="174.74" width="7.64" height="7.61" fill="rgb(49,255,197)"/>
<rect x="269.18" y="174.74" width="7.64" height="7.61" fill="rgb(21,255,226)"/>
<rect x="276.57" y="174.74" width="7.64" height="7.61" fill="rgb(21,255,226)"/>
<rect x="283.96" y="174.74" width="7.64" height="7.61" fill="rgb(21,255,226)"/>
<rect x="291.35" y="174.74" width="7.64" height="7.61" fill="rgb(21,255,226)"/>
<rect x="298.74" y="174.74" width="7.64" height="7.61" fill="rgb(21,255,226)"/>
<rect x="306.12" y="174.74" width="7.64" height="7.61" fill="rgb(8,240,239)"/>
<rect x="313.52" y="174.74" width="7.64" height="7.61" fill="rgb(8,240,239)"/>
<rect x="320.91" y="174.74" width="7.64" height="7.61" fill="rgb(0,224,251)"/>
<rect x="121.38" y="182.10" width="7.64" height="7.61" fill="rgb(132,255,115)"/>
<rect x="128.77" y="182.10" width="7.64" height="7.61" fill="rgb(177,255,70)"/>
<rect x="136.16" y="182.10" width="7.64" height="7.61" fill="rgb(152,255,95)"/>
<rect x="143.55" y="182.10" width="7.64" height="7.61" fill="rgb(93,255,154)"/>
<rect x="150.94" y="182.10" width="7.64" height="7.61" fill="rgb(49,255,197)"/>
<rect x="158.33" y="182.10" width="7.64" height="7.61" fill="rgb(49,255,197)"/>
<rect x="165.72" y="182.10" width="7.64" height="7.61" fill="rgb(49,255,197)"/>
<rect x="173.11" y="182.10" width="7.64" height="7.61" fill="rgb(21,255,226)"/>
<rect x="180.50" y="182.10" width="7.64" height="7.61" fill="rgb(21,255,226)"/>
<rect x="187.89" y="182.10" width="7.64" height="7.61" fill="rgb(49,255,197)"/>
<rect x="195.28" y="182.10" width="7.64" height="7.61" fill="rgb(49,255,197)"/>
<rect x="202.67" y="182.10" width="7.64" height="7.61" fill="rgb(62,255,185)"/>
<rect x="210.06" y="182.10" width="7.64" height="7.61" fill="rgb(49,255,197)"/>
<rect x="217.45" y="182.10" width="7.64" height="7.61" fill="rgb(80,255,167)"/>
<rect x="224.84" y="182.10" width="7.64" height="7.61" fill="rgb(93,255,154)"/>
<rect x="232.23" y="182.10" width="7.64" height="7.61" fill="rgb(107,255,140)"/>
<rect x="239.62" y="182.10" width="7.64" height="7.61" fill="rgb(107,255,140)"/>
<rect x="247.01" y="182.10" width="7.64" height="7.61" fill="rgb(80,255,167)"/>
<rect x="254.40" y="182.10" width="7.64" height="7.61" fill="rgb(68,255,179)"/>
<rect x="261.79" y="182.10" width="7.64" height="7.61" fill="rgb(62,255,185)"/>
<rect x="269.18" y="182.10" width="7.64" height="7.61" fill="rgb(21,255,226)"/>
<rect x="276.57" y="182.10" width="7.64" height="7.61" fill="rgb(21,255,226)"/>
<rect x="283.96" y="182.10" width="7.64" height="7.61" fill="rgb(21,255,226)"/>
<rect x="291.35" y="182.10" width="7.64" height="7.61" fill="rgb(21,255,226)"/>
<rect x="298.74" y="182.10" width="7.64" height="7.61" fill="rgb(0,224,251)"/>
<rect x="306.12" y="182.10" width="7.64" height="7.61" fill="rgb(0,224,251)"/>
<rect x="313.52" y="182.10" width="7.64" height="7.61" fill="rgb(0,224,251)"/>
<rect x="113.99" y="189.46" width="7.64" height="7.61" fill="rgb(206,255,41)"/>
<rect x="121.38" y="189.46" width="7.64" height="7.61" fill="rgb(152,255,95)"/>
<rect x="128.77" y="189.46" width="7.64" height="7.61" fill="rgb(62,255,185)"/>
<rect x="136.16" y="189.46" width="7.64" height="7.61" fill="rgb(80,255,167)"/>
<rect x="143.55" y="189.46" width="7.64" height="7.61" fill="rgb(80,255,167)"/>
<rect x="150.94" y="189.46" width="7.64" height="7.61" fill="rgb(93,255,154)"/>
<rect x="158.33" y="189.46" width="7.64" height="7.61" fill="rgb(93,255,154)"/>
<rect x="165.72" y="189.46" width="7.64" height="7.61" fill="rgb(93,255,154)"/>
<rect x="173.11" y="189.46" width="7.64" height="7.61" fill="rgb(80,255,167)"/>
<rect x="180.50" y="189.46" width="7.64" height="7.61" fill="rgb(80,255,167)"/>
<rect x="187.89" y="189.46" width="7.64" height="7.61" fill="rgb(62,255,185)"/>
<rect x="195.28" y="189.46" width="7.64" height="7.61" fill="rgb(62,255,185)"/>
<rect x="202.67" y="189.46" width="7.64" height="7.61" fill="rgb(49,255,197)"/>
<rect x="210.06" y="189.46" width="7.64" height="7.61" fill="rgb(49,255,197)"/>
<rect x="217.45" y="189.46" width="7.64" height="7.61" fill="rgb(62,255,185)"/>
<rect x="224.84" y="189.46" width="7.64" height="7.61" fill="rgb(80,255,167)"/>
<rect x="232.23" y="189.46" width="7.64" height="7.61" fill="rgb(107,255,140)"/>
<rect x="239.62" y="189.46" width="7.64" height="7.61" fill="rgb(119,255,128)"/>
<rect x="247.01" y="189.46" width="7.64" height="7.61" fill="rgb(80,255,167)"/>
<rect x="254.40" y="189.46" width="7.64" height="7.61" fill="rgb(68,255,179)"/>
<rect x="261.79" y="189.46" width="7.64" height="7.61" fill="rgb(49,255,197)"/>
<rect x="269.18" y="189.46" width="7.64" height="7.61" fill="rgb(8,240,239)"/>
<rect x="276.57" y="189.46" width="7.64" height="7.61" fill="rgb(8,240,239)"/>
<rect x="283.96" y="189.46" width="7.64" height="7.61" fill="rgb(21,255,226)"/>
<rect x="291.35" y="189.46" width="7.64" height="7.61" fill="rgb(80,255,167)"/>
<rect x="99.21" y="196.82" width="7.64" height="7.61" fill="rgb(49,255,197)"/>
<rect x="106.59" y="196.82" width="7.64" height="7.61" fill="rgb(80,255,167)"/>
<rect x="113.99" y="196.82" width="7.64" height="7.61" fill="rgb(165,255,82)"/>
<rect x="121.38" y="196.82" width="7.64" height="7.61" fill="rgb(132,255,115)"/>
<rect x="128.77" y="196.82" width="7.64" height="7.61" fill="rgb(62,255,185)"/>
<rect x="136.16" y="196.82" width="7.64" height="7.61" fill="rgb(62,255,185)"/>
<rect x="143.55" y="196.82" width="7.64" height="7.61" fill="rgb(80,255,167)"/>
<rect x="150.94" y="196.82" width="7.64" height="7.61" fill="rgb(93,255,154)"/>
<rect x="158.33" y="196.82" width="7.64" height="7.61" fill="rgb(107,255,140)"/>
<rect x="165.72" y="196.82" width="7.64" height="7.61" fill="rgb(119,255,128)"/>
<rect x="173.11" y="196.82" width="7.64" height="7.61" fill="rgb(107,255,140)"/>
<rect x="180.50" y="196.82" width="7.64" height="7.61" fill="rgb(93,255,154)"/>
<rect x="187.89" y="196.82" width="7.64" height="7.61" fill="rgb(80,255,167)"/>
<rect x="195.28" y="196.82" width="7.64" height="7.61" fill="rgb(62,255,185)"/>
<rect x="202.67" y="196.82" width="7.64" height="7.61" fill="rgb(49,255,197)"/>
<rect x="210.06" y="196.82" width="7.64" height="7.61" fill="rgb(49,255,197)"/>
<rect x="217.45" y="196.82" width="7.64" height="7.61" fill="rgb(49,255,197)"/>
<rect x="224.84" y="196.82" width="7.64" height="7.61" fill="rgb(49,255,197)"/>
<rect x="232.23" y="196.82" width="7.64" height="7.61" fill="rgb(49,255,197)"/>
<rect x="239.62" y="196.82" width="7.64" height="7.61" fill="rgb(80,255,167)"/>
<rect x="247.01" y="196.82" width="7.64" height="7.61" fill="rgb(80,255,167)"/>
<rect x="254.40" y="196.82" width="7.64" height="7.61" fill="rgb(49,255,197)"/>
<rect x="261.79" y="196.82" width="7.64" height="7.61" fill="rgb(21,255,226)"/>
<rect x="269.18" y="196.82" width="7.64" height="7.61" fill="rgb(0,199,255)"/>
<rect x="91.81" y="204.18" width="7.64" height="7.61" fill="rgb(206,255,41)"/>
<rect x="99.21" y="204.18" width="7.64" height="7.61" fill="rgb(165,255,82)"/>
<rect x="106.59" y="204.18" width="7.64" height="7.61" fill="rgb(80,255,167)"/>
<rect x="113.99" y="204.18" width="7.64" height="7.61" fill="rgb(132,255,115)"/>
<rect x="121.38" y="204.18" width="7.64" height="7.61" fill="rgb(165,255,82)"/>
<rect x="128.77" y="204.18" width="7.64" height="7.61" fill="rgb(80,255,167)"/>
<rect x="136.16" y="204.18" width="7.64" height="7.61" fill="rgb(80,255,167)"/>
<rect x="143.55" y="204.18" width="7.64" height="7.61" fill="rgb(93,255,154)"/>
<rect x="150.94" y="204.18" width="7.64" height="7.61" fill="rgb(107,255,140)"/>
<rect x="158.33" y="204.18" width="7.64" height="7.61" fill="rgb(107,255,140)"/>
<rect x="165.72" y="204.18" width="7.64" height="7.61" fill="rgb(107,255,140)"/>
<rect x="173.11" y="204.18" width="7.64" height="7.61" fill="rgb(107,255,140)"/>
<rect x="180.50" y="204.18" width="7.64" height="7.61" fill="rgb(93,255,154)"/>
<rect x="187.89" y="204.18" width="7.64" height="7.61" fill="rgb(93,255,154)"/>
<rect x="195.28" y="204.18" width="7.64" height="7.61" fill="rgb(80,255,167)"/>
<rect x="202.67" y="204.18" width="7.64" height="7.61" fill="rgb(62,255,185)"/>
<rect x="210.06" y="204.18" width="7.64" height="7.61" fill="rgb(49,255,197)"/>
<rect x="217.45" y="204.18" width="7.64" height="7.61" fill="rgb(49,255,197)"/>
<rect x="224.84" y="204.18" width="7.64" height="7.61" fill="rgb(37,255,210)"/>
<rect x="232.23" y="204.18" width="7.64" height="7.61" fill="rgb(8,240,239)"/>
<rect x="239.62" y="204.18" width="7.64" height="7.61" fill="rgb(49,255,197)"/>
<rect x="247.01" y="204.18" width="7.64" height="7.61" fill="rgb(49,255,197)"/>
<rect x="254.40" y="204.18" width="7.64" height="7.61" fill="rgb(49,255,197)"/>
<rect x="261.79" y="204.18" width="7.64" height="7.61" fill="rgb(21,255,226)"/>
<rect x="91.81" y="211.54" width="7.64" height="7.61" fill="rgb(21,255,226)"/>
<rect x="99.21" y="211.54" width="7.64" height="7.61" fill="rgb(93,255,154)"/>
<rect x="106.59" y="211.54" width="7.64" height="7.61" fill="rgb(107,255,140)"/>
<rect x="113.99" y="211.54" width="7.64" height="7.61" fill="rgb(119,255,128)"/>
<rect x="121.38" y="211.54" width="7.64" height="7.61" fill="rgb(119,255,128)"/>
<rect x="128.77" y="211.54" width="7.64" height="7.61" fill="rgb(93,255,154)"/>
<rect x="136.16" y="211.54" width="7.64" height="7.61" fill="rgb(107,255,140)"/>
<rect x="143.55" y="211.54" width="7.64" height="7.61" fill="rgb(107,255,140)"/>
<rect x="150.94" y="211.54" width="7.64" height="7.61" fill="rgb(107,255,140)"/>
<rect x="158.33" y="211.54" width="7.64" height="7.61" fill="rgb(107,255,140)"/>
<rect x="165.72" y="211.54" width="7.64" height="7.61" fill="rgb(119,255,128)"/>
<rect x="173.11" y="211.54" width="7.64" height="7.61" fill="rgb(119,255,128)"/>
<rect x="180.50" y="211.54" width="7.64" height="7.61" fill="rgb(107,255,140)"/>
<rect x="187.89" y="211.54" width="7.64" height="7.61" fill="rgb(93,255,154)"/>
<rect x="195.28" y="211.54" width="7.64" height="7.61" fill="rgb(93,255,154)"/>
<rect x="202.67" y="211.54" width="7.64" height="7.61" fill="rgb(93,255,154)"/>
<rect x="210.06" y="211.54" width="7.64" height="7.61" fill="rgb(80,255,167)"/>
<rect x="217.45" y="211.54" width="7.64" height="7.61" fill="rgb(49,255,197)"/>
<rect x="224.84" y="211.54" width="7.64" height="7.61" fill="rgb(49,255,197)"/>
<rect x="232.23" y="211.54" width="7.64" height="7.61" fill="rgb(0,224,251)"/>
<rect x="239.62" y="211.54" width="7.64" height="7.61" fill="rgb(93,255,154)"/>
<rect x="247.01" y="211.54" width="7.64" height="7.61" fill="rgb(93,255,154)"/>
<rect x="254.40" y="211.54" width="7.64" height="7.61" fill="rgb(80,255,167)"/>
<rect x="261.79" y="211.54" width="7.64" height="7.61" fill="rgb(0,224,251)"/>
<rect x="84.43" y="218.90" width="7.64" height="7.61" fill="rgb(8,240,239)"/>
<rect x="91.81" y="218.90" width="7.64" height="7.61" fill="rgb(49,255,197)"/>
<rect x="99.21" y="218.90" width="7.64" height="7.61" fill="rgb(80,255,167)"/>
<rect x="106.59" y="218.90" width="7.64" height="7.61" fill="rgb(107,255,140)"/>
<rect x="113.99" y="218.90" width="7.64" height="7.61" fill="rgb(119,255,128)"/>
<rect x="121.38" y="218.90" width="7.64" height="7.61" fill="rgb(80,255,167)"/>
<rect x="128.77" y="218.90" width="7.64" height="7.61" fill="rgb(119,255,128)"/>
<rect x="136.16" y="218.90" width="7.64" height="7.61" fill="rgb(119,255,128)"/>
<rect x="143.55" y="218.90" width="7.64" height="7.61" fill="rgb(107,255,140)"/>
<rect x="150.94" y="218.90" width="7.64" height="7.61" fill="rgb(107,255,140)"/>
<rect x="158.33" y="218.90" width="7.64" height="7.61" fill="rgb(119,255,128)"/>
<rect x="165.72" y="218.90" width="7.64" height="7.61" fill="rgb(119,255,128)"/>
<rect x="173.11" y="218.90" width="7.64" height="7.61" fill="rgb(119,255,128)"/>
<rect x="180.50" y="218.90" width="7.64" height="7.61" fill="rgb(107,255,140)"/>
<rect x="187.89" y="218.90" width="7.64" height="7.61" fill="rgb(107,255,140)"/>
<rect x="195.28" y="218.90" width="7.64" height="7.61" fill="rgb(107,255,140)"/>
<rect x="202.67" y="218.90" width="7.64" height="7.61" fill="rgb(107,255,140)"/>
<rect x="210.06" y="218.90" width="7.64" height="7.61" fill="rgb(80,255,167)"/>
<rect x="217.45" y="218.90" width="7.64" height="7.61" fill="rgb(80,255,167)"/>
<rect x="224.84" y="218.90" width="7.64" height="7.61" fill="rgb(62,255,185)"/>
<rect x="232.23" y="218.90" width="7.64" height="7.61" fill="rgb(21,255,226)"/>
<rect x="239.62" y="218.90" width="7.64" height="7.61" fill="rgb(62,255,185)"/>
<rect x="247.01" y="218.90" width="7.64" height="7.61" fill="rgb(62,255,185)"/>
<rect x="254.40" y="218.90" width="7.64" height="7.61" fill="rgb(49,255,197)"/>
<rect x="261.79" y="218.90" width="7.64" height="7.61" fill="rgb(0,184,255)"/>
<rect x="91.81" y="226.26" width="7.64" height="7.61" fill="rgb(49,255,197)"/>
<rect x="99.21" y="226.26" width="7.64" height="7.61" fill="rgb(80,255,167)"/>
<rect x="106.59" y="226.26" width="7.64" height="7.61" fill="rgb(107,255,140)"/>
<rect x="113.99" y="226.26" width="7.64" height="7.61" fill="rgb(119,255,128)"/>
<rect x="121.38" y="226.26" width="7.64" height="7.61" fill="rgb(80,255,167)"/>
<rect x="128.77" y="226.26" width="7.64" height="7.61" fill="rgb(132,255,115)"/>
<rect x="136.16" y="226.26" width="7.64" height="7.61" fill="rgb(119,255,128)"/>
<rect x="143.55" y="226.26" width="7.64" height="7.61" fill="rgb(107,255,140)"/>
<rect x="150.94" y="226.26" width="7.64" height="7.61" fill="rgb(107,255,140)"/>
<rect x="158.33" y="226.26" width="7.64" height="7.61" fill="rgb(107,255,140)"/>
<rect x="165.72" y="226.26" width="7.64" height="7.61" fill="rgb(119,255,128)"/>
<rect x="173.11" y="226.26" width="7.64" height="7.61" fill="rgb(119,255,128)"/>
<rect x="180.50" y="226.26" width="7.64" height="7.61" fill="rgb(119,255,128)"/>
<rect x="187.89" y="226.26" width="7.64" height="7.61" fill="rgb(119,255,128)"/>
<rect x="195.28" y="226.26" width="7.64" height="7.61" fill="rgb(119,255,128)"/>
<rect x="202.67" y="226.26" width="7.64" height="7.61" fill="rgb(119,255,128)"/>
<rect x="210.06" y="226.26" width="7.64" height="7.61" fill="rgb(107,255,140)"/>
<rect x="217.45" y="226.26" width="7.64" height="7.61" fill="rgb(119,255,128)"/>
<rect x="224.84" y="226.26" width="7.64" height="7.61" fill="rgb(93,255,154)"/>
<rect x="232.23" y="226.26" width="7.64" height="7.61" fill="rgb(49,255,197)"/>
<rect x="239.62" y="226.26" width="7.64" height="7.61" fill="rgb(49,255,197)"/>
<rect x="247.01" y="226.26" width="7.64" height="7.61" fill="rgb(21,255,226)"/>
<rect x="254.40" y="226.26" width="7.64" height="7.61" fill="rgb(21,255,226)"/>
<rect x="91.81" y="233.62" width="7.64" height="7.61" fill="rgb(119,255,128)"/>
<rect x="99.21" y="233.62" width="7.64" height="7.61" fill="rgb(119,255,128)"/>
<rect x="106.59" y="233.62" width="7.64" height="7.61" fill="rgb(119,255,128)"/>
<rect x="113.99" y="233.62" width="7.64" height="7.61" fill="rgb(107,255,140)"/>
<rect x="121.38" y="233.62" width="7.64" height="7.61" fill="rgb(80,255,167)"/>
<rect x="128.77" y="233.62" width="7.64" height="7.61" fill="rgb(93,255,154)"/>
<rect x="136.16" y="233.62" width="7.64" height="7.61" fill="rgb(93,255,154)"/>
<rect x="143.55" y="233.62" width="7.64" height="7.61" fill="rgb(93,255,154)"/>
<rect x="150.94" y="233.62" width="7.64" height="7.61" fill="rgb(93,255,154)"/>
<rect x="158.33" y="233.62" width="7.64" height="7.61" fill="rgb(93,255,154)"/>
<rect x="165.72" y="233.62" width="7.64" height="7.61" fill="rgb(107,255,140)"/>
<rect x="173.11" y="233.62" width="7.64" height="7.61" fill="rgb(107,255,140)"/>
<rect x="180.50" y="233.62" width="7.64" height="7.61" fill="rgb(119,255,128)"/>
<rect x="187.89" y="233.62" width="7.64" height="7.61" fill="rgb(119,255,128)"/>
<rect x="195.28" y="233.62" width="7.64" height="7.61" fill="rgb(119,255,128)"/>
<rect x="202.67" y="233.62" width="7.64" height="7.61" fill="rgb(132,255,115)"/>
<rect x="210.06" y="233.62" width="7.64" height="7.61" fill="rgb(119,255,128)"/>
<rect x="217.45" y="233.62" width="7.64" height="7.61" fill="rgb(107,255,140)"/>
<rect x="224.84" y="233.62" width="7.64" height="7.61" fill="rgb(80,255,167)"/>
<rect x="232.23" y="233.62" width="7.64" height="7.61" fill="rgb(49,255,197)"/>
<rect x="239.62" y="233.62" width="7.64" height="7.61" fill="rgb(49,255,197)"/>
<rect x="247.01" y="233.62" width="7.64" height="7.61" fill="rgb(0,199,255)"/>
<rect x="254.40" y="233.62" width="7.64" height="7.61" fill="rgb(0,184,255)"/>
<rect x="91.81" y="240.98" width="7.64" height="7.61" fill="rgb(193,255,53)"/>
<rect x="99.21" y="240.98" width="7.64" height="7.61" fill="rgb(152,255,95)"/>
<rect x="106.59" y="240.98" width="7.64" height="7.61" fill="rgb(119,255,128)"/>
<rect x="113.99" y="240.98" width="7.64" height="7.61" fill="rgb(132,255,115)"/>
<rect x="121.38" y="240.98" width="7.64" height="7.61" fill="rgb(119,255,128)"/>
<rect x="128.77" y="240.98" width="7.64" height="7.61" fill="rgb(80,255,167)"/>
<rect x="136.16" y="240.98" width="7.64" height="7.61" fill="rgb(80,255,167)"/>
<rect x="143.55" y="240.98" width="7.64" height="7.61" fill="rgb(80,255,167)"/>
<rect x="150.94" y="240.98" width="7.64" height="7.61" fill="rgb(80,255,167)"/>
<rect x="158.33" y="240.98" width="7.64" height="7.61" fill="rgb(93,255,154)"/>
<rect x="165.72" y="240.98" width="7.64" height="7.61" fill="rgb(93,255,154)"/>
<rect x="173.11" y="240.98" width="7.64" height="7.61" fill="rgb(93,255,154)"/>
<rect x="180.50" y="240.98" width="7.64" height="7.61" fill="rgb(107,255,140)"/>
<rect x="187.89" y="240.98" width="7.64" height="7.61" fill="rgb(107,255,140)"/>
<rect x="195.28" y="240.98" width="7.64" height="7.61" fill="rgb(119,255,128)"/>
<rect x="202.67" y="240.98" width="7.64" height="7.61" fill="rgb(119,255,128)"/>
<rect x="210.06" y="240.98" width="7.64" height="7.61" fill="rgb(119,255,128)"/>
<rect x="217.45" y="240.98" width="7.64" height="7.61" fill="rgb(107,255,140)"/>
<rect x="224.84" y="240.98" width="7.64" height="7.61" fill="rgb(80,255,167)"/>
<rect x="232.23" y="240.98" width="7.64" height="7.61" fill="rgb(80,255,167)"/>
<rect x="239.62" y="240.98" width="7.64" height="7.61" fill="rgb(49,255,197)"/>
<rect x="247.01" y="240.98" width="7.64" height="7.61" fill="rgb(8,240,239)"/>
<rect x="254.40" y="240.98" width="7.64" height="7.61" fill="rgb(0,199,255)"/>
<rect x="91.81" y="248.34" width="7.64" height="7.61" fill="rgb(236,255,10)"/>
<rect x="99.21" y="248.34" width="7.64" height="7.61" fill="rgb(132,255,115)"/>
<rect x="106.59" y="248.34" width="7.64" height="7.61" fill="rgb(119,255,128)"/>
<rect x="113.99" y="248.34" width="7.64" height="7.61" fill="rgb(119,255,128)"/>
<rect x="121.38" y="248.34" width="7.64" height="7.61" fill="rgb(80,255,167)"/>
<rect x="128.77" y="248.34" width="7.64" height="7.61" fill="rgb(21,255,226)"/>
<rect x="136.16" y="248.34" width="7.64" height="7.61" fill="rgb(62,255,185)"/>
<rect x="143.55" y="248.34" width="7.64" height="7.61" fill="rgb(93,255,154)"/>
<rect x="150.94" y="248.34" width="7.64" height="7.61" fill="rgb(93,255,154)"/>
<rect x="158.33" y="248.34" width="7.64" height="7.61" fill="rgb(93,255,154)"/>
<rect x="165.72" y="248.34" width="7.64" height="7.61" fill="rgb(107,255,140)"/>
<rect x="173.11" y="248.34" width="7.64" height="7.61" fill="rgb(107,255,140)"/>
<rect x="180.50" y="248.34" width="7.64" height="7.61" fill="rgb(93,255,154)"/>
<rect x="187.89" y="248.34" width="7.64" height="7.61" fill="rgb(93,255,154)"/>
<rect x="195.28" y="248.34" width="7.64" height="7.61" fill="rgb(93,255,154)"/>
<rect x="202.67" y="248.34" width="7.64" height="7.61" fill="rgb(80,255,167)"/>
<rect x="210.06" y="248.34" width="7.64" height="7.61" fill="rgb(80,255,167)"/>
<rect x="217.45" y="248.34" width="7.64" height="7.61" fill="rgb(80,255,167)"/>
<rect x="224.84" y="248.34" width="7.64" height="7.61" fill="rgb(80,255,167)"/>
<rect x="232.23" y="248.34" width="7.64" height="7.61" fill="rgb(80,255,167)"/>
<rect x="239.62" y="248.34" width="7.64" height="7.61" fill="rgb(49,255,197)"/>
<rect x="247.01" y="248.34" width="7.64" height="7.61" fill="rgb(8,240,239)"/>
<rect x="91.81" y="255.70" width="7.64" height="7.61" fill="rgb(177,255,70)"/>
<rect x="99.21" y="255.70" width="7.64" height="7.61" fill="rgb(165,255,82)"/>
<rect x="106.59" y="255.70" width="7.64" height="7.61" fill="rgb(152,255,95)"/>
<rect x="113.99" y="255.70" width="7.64" height="7.61" fill="rgb(132,255,115)"/>
<rect x="121.38" y="255.70" width="7.64" height="7.61" fill="rgb(8,240,239)"/>
<rect x="128.77" y="255.70" width="7.64" height="7.61" fill="rgb(8,240,239)"/>
<rect x="136.16" y="255.70" width="7.64" height="7.61" fill="rgb(80,255,167)"/>
<rect x="143.55" y="255.70" width="7.64" height="7.61" fill="rgb(80,255,167)"/>
<rect x="150.94" y="255.70" width="7.64" height="7.61" fill="rgb(93,255,154)"/>
<rect x="158.33" y="255.70" width="7.64" height="7.61" fill="rgb(93,255,154)"/>
<rect x="165.72" y="255.70" width="7.64" height="7.61" fill="rgb(107,255,140)"/>
<rect x="173.11" y="255.70" width="7.64" height="7.61" fill="rgb(107,255,140)"/>
<rect x="180.50" y="255.70" width="7.64" height="7.61" fill="rgb(93,255,154)"/>
<rect x="187.89" y="255.70" width="7.64" height="7.61" fill="rgb(80,255,167)"/>
<rect x="195.28" y="255.70" width="7.64" height="7.61" fill="rgb(62,255,185)"/>
<rect x="202.67" y="255.70" width="7.64" height="7.61" fill="rgb(49,255,197)"/>
<rect x="210.06" y="255.70" width="7.64" height="7.61" fill="rgb(21,255,226)"/>
<rect x="217.45" y="255.70" width="7.64" height="7.61" fill="rgb(49,255,197)"/>
<rect x="224.84" y="255.70" width="7.64" height="7.61" fill="rgb(68,255,179)"/>
<rect x="232.23" y="255.70" width="7.64" height="7.61" fill="rgb(107,255,140)"/>
<rect x="239.62" y="255.70" width="7.64" height="7.61" fill="rgb(119,255,128)"/>
<rect x="247.01" y="255.70" width="7.64" height="7.61" fill="rgb(0,184,255)"/>
<rect x="84.43" y="263.06" width="7.64" height="7.61" fill="rgb(255,229,0)"/>
<rect x="91.81" y="263.06" width="7.64" height="7.61" fill="rgb(206,255,41)"/>
<rect x="99.21" y="263.06" width="7.64" height="7.61" fill="rgb(177,255,70)"/>
<rect x="106.59" y="263.06" width="7.64" height="7.61" fill="rgb(165,255,82)"/>
<rect x="113.99" y="263.06" width="7.64" height="7.61" fill="rgb(152,255,95)"/>
<rect x="121.38" y="263.06" width="7.64" height="7.61" fill="rgb(49,255,197)"/>
<rect x="128.77" y="263.06" width="7.64" height="7.61" fill="rgb(0,224,251)"/>
<rect x="136.16" y="263.06" width="7.64" height="7.61" fill="rgb(80,255,167)"/>
<rect x="143.55" y="263.06" width="7.64" height="7.61" fill="rgb(107,255,140)"/>
<rect x="150.94" y="263.06" width="7.64" height="7.61" fill="rgb(119,255,128)"/>
<rect x="158.33" y="263.06" width="7.64" height="7.61" fill="rgb(107,255,140)"/>
<rect x="165.72" y="263.06" width="7.64" height="7.61" fill="rgb(107,255,140)"/>
<rect x="173.11" y="263.06" width="7.64" height="7.61" fill="rgb(93,255,154)"/>
<rect x="180.50" y="263.06" width="7.64" height="7.61" fill="rgb(93,255,154)"/>
<rect x="187.89" y="263.06" width="7.64" height="7.61" fill="rgb(80,255,167)"/>
<rect x="195.28" y="263.06" width="7.64" height="7.61" fill="rgb(49,255,197)"/>
<rect x="202.67" y="263.06" width="7.64" height="7.61" fill="rgb(21,255,226)"/>
<rect x="210.06" y="263.06" width="7.64" height="7.61" fill="rgb(8,240,239)"/>
<rect x="217.45" y="263.06" width="7.64" height="7.61" fill="rgb(49,255,197)"/>
<rect x="224.84" y="263.06" width="7.64" height="7.61" fill="rgb(80,255,167)"/>
<rect x="232.23" y="263.06" width="7.64" height="7.61" fill="rgb(152,255,95)"/>
<rect x="239.62" y="263.06" width="7.64" height="7.61" fill="rgb(132,255,115)"/>
<rect x="247.01" y="263.06" width="7.64" height="7.61" fill="rgb(0,184,255)"/>
<rect x="84.43" y="270.42" width="7.64" height="7.61" fill="rgb(255,151,0)"/>
<rect x="91.81" y="270.42" width="7.64" height="7.61" fill="rgb(255,229,0)"/>
<rect x="99.21" y="270.42" width="7.64" height="7.61" fill="rgb(206,255,41)"/>
<rect x="106.59" y="270.42" width="7.64" height="7.61" fill="rgb(177,255,70)"/>
<rect x="113.99" y="270.42" width="7.64" height="7.61" fill="rgb(165,255,82)"/>
<rect x="121.38" y="270.42" width="7.64" height="7.61" fill="rgb(49,255,197)"/>
<rect x="128.77" y="270.42" width="7.64" height="7.61" fill="rgb(62,255,185)"/>
<rect x="136.16" y="270.42" width="7.64" height="7.61" fill="rgb(165,255,82)"/>
<rect x="143.55" y="270.42" width="7.64" height="7.61" fill="rgb(218,255,29)"/>
<rect x="150.94" y="270.42" width="7.64" height="7.61" fill="rgb(218,255,29)"/>
<rect x="158.33" y="270.42" width="7.64" height="7.61" fill="rgb(165,255,82)"/>
<rect x="165.72" y="270.42" width="7.64" height="7.61" fill="rgb(119,255,128)"/>
<rect x="173.11" y="270.42" width="7.64" height="7.61" fill="rgb(93,255,154)"/>
<rect x="180.50" y="270.42" width="7.64" height="7.61" fill="rgb(93,255,154)"/>
<rect x="187.89" y="270.42" width="7.64" height="7.61" fill="rgb(80,255,167)"/>
<rect x="195.28" y="270.42" width="7.64" height="7.61" fill="rgb(49,255,197)"/>
<rect x="202.67" y="270.42" width="7.64" height="7.61" fill="rgb(21,255,226)"/>
<rect x="210.06" y="270.42" width="7.64" height="7.61" fill="rgb(0,224,251)"/>
<rect x="217.45" y="270.42" width="7.64" height="7.61" fill="rgb(80,255,167)"/>
<rect x="224.84" y="270.42" width="7.64" height="7.61" fill="rgb(68,255,179)"/>
<rect x="232.23" y="270.42" width="7.64" height="7.61" fill="rgb(80,255,167)"/>
<rect x="239.62" y="270.42" width="7.64" height="7.61" fill="rgb(62,255,185)"/>
<rect x="247.01" y="270.42" width="7.64" height="7.61" fill="rgb(0,199,255)"/>
<rect x="84.43" y="277.78" width="7.64" height="7.61" fill="rgb(255,189,0)"/>
<rect x="91.81" y="277.78" width="7.64" height="7.61" fill="rgb(255,71,0)"/>
<rect x="99.21" y="277.78" width="7.64" height="7.61" fill="rgb(255,203,0)"/>
<rect x="106.59" y="277.78" width="7.64" height="7.61" fill="rgb(206,255,41)"/>
<rect x="113.99" y="277.78" width="7.64" height="7.61" fill="rgb(177,255,70)"/>
<rect x="121.38" y="277.78" width="7.64" height="7.61" fill="rgb(8,240,239)"/>
<rect x="128.77" y="277.78" width="7.64" height="7.61" fill="rgb(80,255,167)"/>
<rect x="136.16" y="277.78" width="7.64" height="7.61" fill="rgb(165,255,82)"/>
<rect x="143.55" y="277.78" width="7.64" height="7.61" fill="rgb(206,255,41)"/>
<rect x="150.94" y="277.78" width="7.64" height="7.61" fill="rgb(236,255,10)"/>
<rect x="158.33" y="277.78" width="7.64" height="7.61" fill="rgb(177,255,70)"/>
<rect x="165.72" y="277.78" width="7.64" height="7.61" fill="rgb(119,255,128)"/>
<rect x="173.11" y="277.78" width="7.64" height="7.61" fill="rgb(93,255,154)"/>
<rect x="180.50" y="277.78" width="7.64" height="7.61" fill="rgb(93,255,154)"/>
<rect x="187.89" y="277.78" width="7.64" height="7.61" fill="rgb(132,255,115)"/>
<rect x="195.28" y="277.78" width="7.64" height="7.61" fill="rgb(80,255,167)"/>
<rect x="202.67" y="277.78" width="7.64" height="7.61" fill="rgb(49,255,197)"/>
<rect x="210.06" y="277.78" width="7.64" height="7.61" fill="rgb(0,224,251)"/>
<rect x="217.45" y="277.78" width="7.64" height="7.61" fill="rgb(49,255,197)"/>
<rect x="224.84" y="277.78" width="7.64" height="7.61" fill="rgb(21,255,226)"/>
<rect x="232.23" y="277.78" width="7.64" height="7.61" fill="rgb(21,255,226)"/>
<rect x="239.62" y="277.78" width="7.64" height="7.61" fill="rgb(8,240,239)"/>
<rect x="91.81" y="285.14" width="7.64" height="7.61" fill="rgb(255,109,0)"/>
<rect x="99.21" y="285.14" width="7.64" height="7.61" fill="rgb(236,255,10)"/>
<rect x="106.59" y="285.14" width="7.64" height="7.61" fill="rgb(249,243,0)"/>
<rect x="113.99" y="285.14" width="7.64" height="7.61" fill="rgb(206,255,41)"/>
<rect x="121.38" y="285.14" width="7.64" height="7.61" fill="rgb(49,255,197)"/>
<rect x="128.77" y="285.14" width="7.64" height="7.61" fill="rgb(107,255,140)"/>
<rect x="136.16" y="285.14" width="7.64" height="7.61" fill="rgb(152,255,95)"/>
<rect x="143.55" y="285.14" width="7.64" height="7.61" fill="rgb(177,255,70)"/>
<rect x="150.94" y="285.14" width="7.64" height="7.61" fill="rgb(193,255,53)"/>
<rect x="158.33" y="285.14" width="7.64" height="7.61" fill="rgb(165,255,82)"/>
<rect x="165.72" y="285.14" width="7.64" height="7.61" fill="rgb(119,255,128)"/>
<rect x="173.11" y="285.14" width="7.64" height="7.61" fill="rgb(107,255,140)"/>
<rect x="180.50" y="285.14" width="7.64" height="7.61" fill="rgb(107,255,140)"/>
<rect x="187.89" y="285.14" width="7.64" height="7.61" fill="rgb(119,255,128)"/>
<rect x="195.28" y="285.14" width="7.64" height="7.61" fill="rgb(80,255,167)"/>
<rect x="202.67" y="285.14" width="7.64" height="7.61" fill="rgb(62,255,185)"/>
<rect x="210.06" y="285.14" width="7.64" height="7.61" fill="rgb(21,255,226)"/>
<rect x="217.45" y="285.14" width="7.64" height="7.61" fill="rgb(49,255,197)"/>
<rect x="224.84" y="285.14" width="7.64" height="7.61" fill="rgb(21,255,226)"/>
<rect x="232.23" y="285.14" width="7.64" height="7.61" fill="rgb(21,255,226)"/>
<rect x="239.62" y="285.14" width="7.64" height="7.61" fill="rgb(0,224,251)"/>
<rect x="99.21" y="292.50" width="7.64" height="7.61" fill="rgb(206,255,41)"/>
<rect x="106.59" y="292.50" width="7.64" height="7.61" fill="rgb(236,255,10)"/>
<rect x="113.99" y="292.50" width="7.64" height="7.61" fill="rgb(206,255,41)"/>
<rect x="121.38" y="292.50" width="7.64" height="7.61" fill="rgb(119,255,128)"/>
<rect x="128.77" y="292.50" width="7.64" height="7.61" fill="rgb(119,255,128)"/>
<rect x="136.16" y="292.50" width="7.64" height="7.61" fill="rgb(80,255,167)"/>
<rect x="143.55" y="292.50" width="7.64" height="7.61" fill="rgb(68,255,179)"/>
<rect x="150.94" y="292.50" width="7.64" height="7.61" fill="rgb(107,255,140)"/>
<rect x="158.33" y="292.50" width="7.64" height="7.61" fill="rgb(119,255,128)"/>
<rect x="165.72" y="292.50" width="7.64" height="7.61" fill="rgb(119,255,128)"/>
<rect x="173.11" y="292.50" width="7.64" height="7.61" fill="rgb(107,255,140)"/>
<rect x="180.50" y="292.50" width="7.64" height="7.61" fill="rgb(107,255,140)"/>
<rect x="187.89" y="292.50" width="7.64" height="7.61" fill="rgb(107,255,140)"/>
<rect x="195.28" y="292.50" width="7.64" height="7.61" fill="rgb(93,255,154)"/>
<rect x="202.67" y="292.50" width="7.64" height="7.61" fill="rgb(80,255,167)"/>
<rect x="210.06" y="292.50" width="7.64" height="7.61" fill="rgb(80,255,167)"/>
<rect x="217.45" y="292.50" width="7.64" height="7.61" fill="rgb(80,255,167)"/>
<rect x="224.84" y="292.50" width="7.64" height="7.61" fill="rgb(49,255,197)"/>
<rect x="232.23" y="292.50" width="7.64" height="7.61" fill="rgb(49,255,197)"/>
<rect x="239.62" y="292.50" width="7.64" height="7.61" fill="rgb(0,224,251)"/>
<rect x="106.59" y="299.86" width="7.64" height="7.61" fill="rgb(255,109,0)"/>
<rect x="113.99" y="299.86" width="7.64" height="7.61" fill="rgb(206,255,41)"/>
<rect x="121.38" y="299.86" width="7.64" height="7.61" fill="rgb(206,255,41)"/>
<rect x="128.77" y="299.86" width="7.64" height="7.61" fill="rgb(165,255,82)"/>
<rect x="136.16" y="299.86" width="7.64" height="7.61" fill="rgb(132,255,115)"/>
<rect x="143.55" y="299.86" width="7.64" height="7.61" fill="rgb(119,255,128)"/>
<rect x="150.94" y="299.86" width="7.64" height="7.61" fill="rgb(119,255,128)"/>
<rect x="158.33" y="299.86" width="7.64" height="7.61" fill="rgb(119,255,128)"/>
<rect x="165.72" y="299.86" width="7.64" height="7.61" fill="rgb(107,255,140)"/>
<rect x="173.11" y="299.86" width="7.64" height="7.61" fill="rgb(107,255,140)"/>
<rect x="180.50" y="299.86" width="7.64" height="7.61" fill="rgb(107,255,140)"/>
<rect x="187.89" y="299.86" width="7.64" height="7.61" fill="rgb(107,255,140)"/>
<rect x="195.28" y="299.86" width="7.64" height="7.61" fill="rgb(62,255,185)"/>
<rect x="202.67" y="299.86" width="7.64" height="7.61" fill="rgb(62,255,185)"/>
<rect x="210.06" y="299.86" width="7.64" height="7.61" fill="rgb(80,255,167)"/>
<rect x="217.45" y="299.86" width="7.64" height="7.61" fill="rgb(80,255,167)"/>
<rect x="224.84" y="299.86" width="7.64" height="7.61" fill="rgb(80,255,167)"/>
<rect x="232.23" y="299.86" width="7.64" height="7.61" fill="rgb(49,255,197)"/>
<rect x="239.62" y="299.86" width="7.64" height="7.61" fill="rgb(49,255,197)"/>
<rect x="113.99" y="307.22" width="7.64" height="7.61" fill="rgb(80,255,167)"/>
<rect x="121.38" y="307.22" width="7.64" height="7.61" fill="rgb(206,255,41)"/>
<rect x="128.77" y="307.22" width="7.64" height="7.61" fill="rgb(193,255,53)"/>
<rect x="136.16" y="307.22" width="7.64" height="7.61" fill="rgb(177,255,70)"/>
<rect x="143.55" y="307.22" width="7.64" height="7.61" fill="rgb(165,255,82)"/>
<rect x="150.94" y="307.22" width="7.64" height="7.61" fill="rgb(152,255,95)"/>
<rect x="158.33" y="307.22" width="7.64" height="7.61" fill="rgb(119,255,128)"/>
<rect x="165.72" y="307.22" width="7.64" height="7.61" fill="rgb(93,255,154)"/>
<rect x="173.11" y="307.22" width="7.64" height="7.61" fill="rgb(107,255,140)"/>
<rect x="180.50" y="307.22" width="7.64" height="7.61" fill="rgb(107,255,140)"/>
<rect x="187.89" y="307.22" width="7.64" height="7.61" fill="rgb(107,255,140)"/>
<rect x="195.28" y="307.22" width="7.64" height="7.61" fill="rgb(62,255,185)"/>
<rect x="202.67" y="307.22" width="7.64" height="7.61" fill="rgb(62,255,185)"/>
<rect x="210.06" y="307.22" width="7.64" height="7.61" fill="rgb(80,255,167)"/>
<rect x="217.45" y="307.22" width="7.64" height="7.61" fill="rgb(80,255,167)"/>
<rect x="224.84" y="307.22" width="7.64" height="7.61" fill="rgb(80,255,167)"/>
<rect x="232.23" y="307.22" width="7.64" height="7.61" fill="rgb(49,255,197)"/>
<rect x="239.62" y="307.22" width="7.64" height="7.61" fill="rgb(8,240,239)"/>
<rect x="113.99" y="314.58" width="7.64" height="7.61" fill="rgb(49,255,197)"/>
<rect x="121.38" y="314.58" width="7.64" height="7.61" fill="rgb(236,255,10)"/>
<rect x="128.77" y="314.58" width="7.64" height="7.61" fill="rgb(236,255,10)"/>
<rect x="136.16" y="314.58" width="7.64" height="7.61" fill="rgb(206,255,41)"/>
<rect x="143.55" y="314.58" width="7.64" height="7.61" fill="rgb(193,255,53)"/>
<rect x="150.94" y="314.58" width="7.64" height="7.61" fill="rgb(165,255,82)"/>
<rect x="158.33" y="314.58" width="7.64" height="7.61" fill="rgb(119,255,128)"/>
<rect x="165.72" y="314.58" width="7.64" height="7.61" fill="rgb(62,255,185)"/>
<rect x="173.11" y="314.58" width="7.64" height="7.61" fill="rgb(80,255,167)"/>
<rect x="180.50" y="314.58" width="7.64" height="7.61" fill="rgb(107,255,140)"/>
<rect x="187.89" y="314.58" width="7.64" height="7.61" fill="rgb(119,255,128)"/>
<rect x="195.28" y="314.58" width="7.64" height="7.61" fill="rgb(62,255,185)"/>
<rect x="202.67" y="314.58" width="7.64" height="7.61" fill="rgb(62,255,185)"/>
<rect x="210.06" y="314.58" width="7.64" height="7.61" fill="rgb(80,255,167)"/>
<rect x="217.45" y="314.58" width="7.64" height="7.61" fill="rgb(93,255,154)"/>
<rect x="224.84" y="314.58" width="7.64" height="7.61" fill="rgb(80,255,167)"/>
<rect x="232.23" y="314.58" width="7.64" height="7.61" fill="rgb(49,255,197)"/>
<rect x="239.62" y="314.58" width="7.64" height="7.61" fill="rgb(49,255,197)"/>
<rect x="121.38" y="321.94" width="7.64" height="7.61" fill="rgb(119,255,128)"/>
<rect x="128.77" y="321.94" width="7.64" height="7.61" fill="rgb(249,243,0)"/>
<rect x="136.16" y="321.94" width="7.64" height="7.61" fill="rgb(193,255,53)"/>
<rect x="143.55" y="321.94" width="7.64" height="7.61" fill="rgb(193,255,53)"/>
<rect x="150.94" y="321.94" width="7.64" height="7.61" fill="rgb(177,255,70)"/>
<rect x="158.33" y="321.94" width="7.64" height="7.61" fill="rgb(132,255,115)"/>
<rect x="165.72" y="321.94" width="7.64" height="7.61" fill="rgb(49,255,197)"/>
<rect x="173.11" y="321.94" width="7.64" height="7.61" fill="rgb(62,255,185)"/>
<rect x="180.50" y="321.94" width="7.64" height="7.61" fill="rgb(93,255,154)"/>
<rect x="187.89" y="321.94" width="7.64" height="7.61" fill="rgb(132,255,115)"/>
<rect x="195.28" y="321.94" width="7.64" height="7.61" fill="rgb(107,255,140)"/>
<rect x="202.67" y="321.94" width="7.64" height="7.61" fill="rgb(152,255,95)"/>
<rect x="210.06" y="321.94" width="7.64" height="7.61" fill="rgb(119,255,128)"/>
<rect x="217.45" y="321.94" width="7.64" height="7.61" fill="rgb(93,255,154)"/>
<rect x="224.84" y="321.94" width="7.64" height="7.61" fill="rgb(49,255,197)"/>
<rect x="232.23" y="321.94" width="7.64" height="7.61" fill="rgb(49,255,197)"/>
<rect x="239.62" y="321.94" width="7.64" height="7.61" fill="rgb(21,255,226)"/>
<rect x="128.77" y="329.30" width="7.64" height="7.61" fill="rgb(152,255,95)"/>
<rect x="136.16" y="329.30" width="7.64" height="7.61" fill="rgb(193,255,53)"/>
<rect x="143.55" y="329.30" width="7.64" height="7.61" fill="rgb(236,255,10)"/>
<rect x="150.94" y="329.30" width="7.64" height="7.61" fill="rgb(255,165,0)"/>
<rect x="158.33" y="329.30" width="7.64" height="7.61" fill="rgb(132,255,115)"/>
<rect x="165.72" y="329.30" width="7.64" height="7.61" fill="rgb(80,255,167)"/>
<rect x="173.11" y="329.30" width="7.64" height="7.61" fill="rgb(80,255,167)"/>
<rect x="180.50" y="329.30" width="7.64" height="7.61" fill="rgb(119,255,128)"/>
<rect x="187.89" y="329.30" width="7.64" height="7.61" fill="rgb(206,255,41)"/>
<rect x="195.28" y="329.30" width="7.64" height="7.61" fill="rgb(152,255,95)"/>
<rect x="202.67" y="329.30" width="7.64" height="7.61" fill="rgb(132,255,115)"/>
<rect x="210.06" y="329.30" width="7.64" height="7.61" fill="rgb(119,255,128)"/>
<rect x="217.45" y="329.30" width="7.64" height="7.61" fill="rgb(93,255,154)"/>
<rect x="224.84" y="329.30" width="7.64" height="7.61" fill="rgb(49,255,197)"/>
<rect x="232.23" y="329.30" width="7.64" height="7.61" fill="rgb(62,255,185)"/>
<rect x="239.62" y="329.30" width="7.64" height="7.61" fill="rgb(49,255,197)"/>
<rect x="136.16" y="336.66" width="7.64" height="7.61" fill="rgb(249,243,0)"/>
<rect x="143.55" y="336.66" width="7.64" height="7.61" fill="rgb(255,151,0)"/>
<rect x="150.94" y="336.66" width="7.64" height="7.61" fill="rgb(128,0,0)"/>
<rect x="158.33" y="336.66" width="7.64" height="7.61" fill="rgb(132,255,115)"/>
<rect x="165.72" y="336.66" width="7.64" height="7.61" fill="rgb(119,255,128)"/>
<rect x="173.11" y="336.66" width="7.64" height="7.61" fill="rgb(152,255,95)"/>
<rect x="180.50" y="336.66" width="7.64" height="7.61" fill="rgb(165,255,82)"/>
<rect x="187.89" y="336.66" width="7.64" height="7.61" fill="rgb(152,255,95)"/>
<rect x="195.28" y="336.66" width="7.64" height="7.61" fill="rgb(93,255,154)"/>
<rect x="202.67" y="336.66" width="7.64" height="7.61" fill="rgb(93,255,154)"/>
<rect x="210.06" y="336.66" width="7.64" height="7.61" fill="rgb(80,255,167)"/>
<rect x="217.45" y="336.66" width="7.64" height="7.61" fill="rgb(80,255,167)"/>
<rect x="224.84" y="336.66" width="7.64" height="7.61" fill="rgb(0,224,251)"/>
<rect x="232.23" y="336.66" width="7.64" height="7.61" fill="rgb(0,224,251)"/>
<rect x="239.62" y="336.66" width="7.64" height="7.61" fill="rgb(8,240,239)"/>
<rect x="158.33" y="344.02" width="7.64" height="7.61" fill="rgb(255,165,0)"/>
<rect x="165.72" y="344.02" width="7.64" height="7.61" fill="rgb(107,255,140)"/>
<rect x="173.11" y="344.02" width="7.64" height="7.61" fill="rgb(119,255,128)"/>
<rect x="180.50" y="344.02" width="7.64" height="7.61" fill="rgb(119,255,128)"/>
<rect x="187.89" y="344.02" width="7.64" height="7.61" fill="rgb(107,255,140)"/>
<rect x="195.28" y="344.02" width="7.64" height="7.61" fill="rgb(49,255,197)"/>
<rect x="202.67" y="344.02" width="7.64" height="7.61" fill="rgb(49,255,197)"/>
<rect x="210.06" y="344.02" width="7.64" height="7.61" fill="rgb(0,224,251)"/>
<rect x="232.23" y="344.02" width="7.64" height="7.61" fill="rgb(49,255,197)"/>
<rect x="165.72" y="351.38" width="7.64" height="7.61" fill="rgb(80,255,167)"/>
<rect x="173.11" y="351.38" width="7.64" height="7.61" fill="rgb(93,255,154)"/>
<rect x="180.50" y="351.38" width="7.64" height="7.61" fill="rgb(93,255,154)"/>
<rect x="187.89" y="351.38" width="7.64" height="7.61" fill="rgb(49,255,197)"/>
</g>
<g clip-path="url(#ax)">
<path d="M205.3,78.4 L207.9,74.3 L210.4,70.7 L214.0,68.7 L217.6,68.0 L220.7,68.4 L222.7,70.2 L224.2,72.8 L226.8,74.8 L228.8,76.9 L231.9,78.4 L236.0,79.4 L239.0,80.4 L243.1,80.4 L245.2,80.9 L245.2,84.5 L246.7,87.1 L249.8,88.1 L250.8,89.6 L248.2,91.2 L245.2,92.7 L242.1,95.8 L239.0,99.9 L238.0,105.0 L239.5,111.0 L241.3,116.3 L242.3,121.0 L242.1,124.8 L239.0,127.5 L236.5,129.2 L234.5,133.0 L233.2,136.5 L231.5,141.0 L230.4,145.0 L227.5,148.0 L226.0,150.0 L225.3,154.0 L225.1,157.2 L223.5,161.2 L224.3,162.8 L222.5,167.0 L221.1,170.9 L219.8,175.0 L218.7,179.8 L217.8,184.0 L217.0,188.8 L215.4,195.2 L213.8,203.3 L211.9,210.6 L209.7,215.9 L206.5,222.3 L204.9,228.8 L203.0,233.0 L200.8,236.9 L196.0,243.4 L191.1,249.1 L190.3,252.3 L185.4,257.2 L179.0,262.0 L176.5,266.9 L174.1,272.6 L172.5,277.0 L169.2,284.5 L168.4,292.6 L169.2,302.3 L168.4,308.8 L166.0,312.8 L166.8,316.9 L165.2,318.5 L163.8,316.0 L161.9,315.3 L158.7,314.5 L156.3,316.9 L155.1,312.8 L153.0,308.8 L154.6,303.9 L152.2,295.8 L149.0,287.7 L144.1,282.9 L139.2,278.8 L136.0,276.0 L130.3,273.4 L125.5,269.3 L122.2,264.5 L122.2,259.6 L119.8,253.1 L117.4,245.0 L115.0,238.6 L110.9,236.1 L106.8,232.9 L106.0,228.8 L107.0,224.5 L108.5,220.7 L110.9,215.9 L113.5,213.0 L115.8,210.6 L115.8,206.6 L115.0,200.1 L112.5,196.9 L113.3,192.0 L115.8,185.5 L115.0,180.7 L118.2,175.8 L122.2,170.9 L125.5,166.1 L128.7,161.2 L132.0,155.5 L136.0,150.7 L139.2,143.8 L145.7,135.7 L152.2,127.6 L158.7,118.7 L163.5,113.0 L168.4,107.4 L170.8,101.7 L175.7,94.4 L179.0,89.5 L183.0,85.5 L190.0,82.5 L196.1,80.9 L202.3,79.9 L205.3,78.4 Z" fill="none" stroke="#000" stroke-width="0.85" stroke-linejoin="round"/>
<path d="M82.2,16.5 L81.0,20.0 L79.9,22.9 L76.4,24.1 L76.0,26.5 L75.2,28.2 L73.0,27.2 L74.0,30.5 L75.2,34.0 L73.8,36.2 L74.6,38.7 L71.7,40.4 L68.0,39.8 L65.3,41.0 L63.8,42.8 L65.9,45.7 L68.6,44.3 L71.7,45.7 L74.0,48.0 L73.2,50.5 L75.5,52.0 L76.4,53.9 L78.1,50.8 L79.9,46.9 L82.0,45.5 L83.4,43.4 L86.0,42.6 L88.1,41.0 L90.4,42.2 L89.4,44.5 L91.6,46.9 L90.0,49.0 L89.8,51.5 L88.0,52.5 L86.9,55.0 L84.5,56.5 L83.4,59.7 L81.0,58.0 L79.9,56.7 L78.6,53.5" fill="none" stroke="#000" stroke-width="0.80" stroke-linejoin="round" stroke-linecap="round"/>
<path d="M86.0,38.5 L88.5,40.2 L91.0,39.4 L93.5,41.5 L92.2,44.0" fill="none" stroke="#000" stroke-width="0.80" stroke-linejoin="round" stroke-linecap="round"/>
<path d="M93.9,49.7 L92.2,54.3 L88.7,57.8 L85.7,56.7" fill="none" stroke="#000" stroke-width="0.80" stroke-linejoin="round" stroke-linecap="round"/>
<path d="M95.1,46.2 L97.0,44.2 L98.5,45.8 L96.2,48.5 L95.1,46.2 Z" fill="none" stroke="#000" stroke-width="0.60" stroke-linejoin="round" stroke-linecap="round"/>
<path d="M54.0,17.7 L56.5,16.9 L59.0,18.6 L61.0,17.2 L63.5,18.3" fill="none" stroke="#000" stroke-width="0.80" stroke-linejoin="round" stroke-linecap="round"/>
<path d="M98.0,17.7 L99.6,19.2 L101.5,18.2 L100.6,20.0" fill="none" stroke="#000" stroke-width="0.80" stroke-linejoin="round" stroke-linecap="round"/>
<path d="M54.2,50.3 L52.0,50.6 L50.1,52.0 L49.6,54.0 L48.4,55.5 L45.5,55.4 L42.5,56.7 L41.8,58.6 L40.2,60.2 L41.0,62.0 L42.5,62.5 L43.0,60.8 L44.3,60.2 L45.0,62.2 L46.6,62.5 L45.2,64.0 L45.4,65.4 L47.3,65.6 L48.4,67.2 L49.0,65.4 L50.1,64.9 L52.4,66.4 L54.2,66.0 L55.0,67.6 L56.5,68.4 L57.0,70.0 L58.3,70.7 L55.2,72.0 L51.9,74.2 L50.6,75.8 L48.4,76.5 L47.5,78.2 L46.0,78.9 L44.6,76.6 L43.4,77.0 L41.4,74.2 L39.4,74.6 L37.8,73.0 L36.2,75.0 L34.3,75.4 L33.4,73.4 L32.0,73.0 L31.4,71.0 L30.3,69.5 L30.6,68.0 L29.7,67.2" fill="none" stroke="#000" stroke-width="0.80" stroke-linejoin="round" stroke-linecap="round"/>
<path d="M30.3,77.7 L31.6,79.5 L30.2,81.8 L31.6,84.0 L30.4,86.5 L31.4,89.0 L30.8,91.7" fill="none" stroke="#000" stroke-width="0.80" stroke-linejoin="round" stroke-linecap="round"/>
<path d="M33.2,81.2 L35.0,79.8 L36.7,80.0 L38.0,81.5 L39.6,82.4 L38.2,84.6 L38.6,86.4 L37.0,87.4 L36.2,85.6 L35.5,84.7 L34.2,83.0 L33.2,81.2 Z" fill="none" stroke="#000" stroke-width="0.80" stroke-linejoin="round" stroke-linecap="round"/>
<path d="M54.2,52.0 L56.5,51.2 L58.5,53.0 L61.0,52.6 L63.5,55.5 L62.0,57.2 L64.2,58.4 L65.9,60.2 L64.0,61.6 L65.6,63.4 L64.7,66.0 L63.0,66.8" fill="none" stroke="#000" stroke-width="0.80" stroke-linejoin="round" stroke-linecap="round"/>
<path d="M56.5,55.5 L58.6,56.6 L60.2,58.5 L58.4,59.4 L57.0,57.6 L56.5,55.5 Z" fill="none" stroke="#000" stroke-width="0.60" stroke-linejoin="round" stroke-linecap="round"/>
<path d="M63.5,72.4 L65.5,71.4 L68.0,72.4 L69.6,74.4 L71.9,75.2 L72.4,77.2 L70.4,78.2 L68.6,76.8 L66.6,77.4 L64.4,75.6 L63.5,72.4 Z" fill="none" stroke="#000" stroke-width="0.80" stroke-linejoin="round" stroke-linecap="round"/>
<path d="M72.9,60.2 L74.6,61.2 L75.0,63.2 L76.4,64.9 L74.4,65.4 L73.4,63.2 L72.9,60.2 Z" fill="none" stroke="#000" stroke-width="0.60" stroke-linejoin="round" stroke-linecap="round"/>
<path d="M72.9,71.3 L74.8,72.6 L76.4,73.0 L75.4,74.4" fill="none" stroke="#000" stroke-width="0.80" stroke-linejoin="round" stroke-linecap="round"/>
<path d="M80.2,62.2 L81.6,62.8 L81.2,64.4 L82.2,65.6 L81.0,66.8 L79.8,65.6 L80.6,64.2 L80.2,62.2 Z" fill="none" stroke="#000" stroke-width="0.60" stroke-linejoin="round" stroke-linecap="round"/>
<circle cx="84.6" cy="68.4" r="0.6" fill="#000"/>
<circle cx="82.8" cy="69.5" r="0.6" fill="#000"/>
<circle cx="56.3" cy="80.6" r="0.6" fill="#000"/>
<circle cx="63.0" cy="90.5" r="0.6" fill="#000"/>
<circle cx="55.8" cy="81.0" r="0.6" fill="#000"/>
<circle cx="62.6" cy="90.7" r="0.6" fill="#000"/>
<circle cx="66.5" cy="67.5" r="0.6" fill="#000"/>
<circle cx="67.2" cy="69.5" r="0.6" fill="#000"/>
<circle cx="86.0" cy="50.5" r="0.6" fill="#000"/>
<circle cx="84.8" cy="48.2" r="0.6" fill="#000"/>
<circle cx="79.5" cy="34.5" r="0.6" fill="#000"/>
<circle cx="78.6" cy="38.2" r="0.6" fill="#000"/>
<path d="M66.4,191.0 L67.6,188.6 L70.0,187.4 L72.6,188.0 L74.6,187.2 L76.4,188.8 L75.4,190.6 L77.6,191.4 L79.6,193.4 L80.8,195.8 L78.6,196.0 L76.6,194.6 L75.6,196.6 L77.0,198.6 L75.0,200.0 L72.4,199.4 L70.6,200.6 L68.6,199.0 L70.2,196.6 L68.6,194.6 L66.4,194.0 L66.4,191.0 Z" fill="none" stroke="#000" stroke-width="0.80" stroke-linejoin="round" stroke-linecap="round"/>
<path d="M69.6,191.0 L71.6,190.4 L72.8,192.4 L71.4,194.6 L72.6,196.4" fill="none" stroke="#000" stroke-width="0.80" stroke-linejoin="round" stroke-linecap="round"/>
<ellipse cx="73.6" cy="182.3" rx="1.3" ry="1.1" fill="none" stroke="#000" stroke-width="0.60"/>
<ellipse cx="69.6" cy="184.7" rx="0.9" ry="0.8" fill="none" stroke="#000" stroke-width="0.60"/>
<ellipse cx="77.7" cy="188.2" rx="1.0" ry="0.8" fill="none" stroke="#000" stroke-width="0.60"/>
<ellipse cx="67.3" cy="201.2" rx="1.1" ry="0.9" fill="none" stroke="#000" stroke-width="0.60"/>
<ellipse cx="60.7" cy="221.5" rx="1.1" ry="1.0" fill="none" stroke="#000" stroke-width="0.60"/>
<circle cx="52.6" cy="207.4" r="0.6" fill="#000"/>
<circle cx="66.3" cy="209.0" r="0.6" fill="#000"/>
<circle cx="53.4" cy="213.4" r="0.6" fill="#000"/>
<circle cx="66.3" cy="217.5" r="0.6" fill="#000"/>
<circle cx="74.4" cy="218.3" r="0.6" fill="#000"/>
<circle cx="78.5" cy="218.3" r="0.6" fill="#000"/>
<circle cx="65.2" cy="186.6" r="0.6" fill="#000"/>
<ellipse cx="212.3" cy="262.5" rx="1.4" ry="1.6" fill="none" stroke="#000" stroke-width="0.60"/>
<path d="M213.8,304.5 L215.6,303.6 L217.6,303.9 L218.2,305.6 L218.8,306.9 L220.2,308.4 L221.2,309.9 L220.9,310.9 L220.0,311.1 L218.2,310.4 L216.4,309.3 L215.0,308.0 L214.0,306.9 L213.8,304.5 Z" fill="none" stroke="#000" stroke-width="0.80" stroke-linejoin="round" stroke-linecap="round"/>
<circle cx="221.5" cy="314.4" r="0.5" fill="#000"/>
<circle cx="218.8" cy="327.5" r="0.3" fill="#000"/>
<circle cx="255.9" cy="43.5" r="0.6" fill="#000"/>
<circle cx="258.3" cy="54.3" r="0.5" fill="#000"/>
<path d="M210.4,82 L212,82.5" stroke="#000" stroke-width="0.8" fill="none"/>
<circle cx="216.6" cy="84.3" r="0.45" fill="#000"/>
<path d="M205.3,78.4 L208.4,76.9 L209.9,78.9" fill="none" stroke="#000" stroke-width="0.80" stroke-linejoin="round" stroke-linecap="round"/>
<path d="M319.9,130.3 L321.4,129.2 L324.8,129.1" fill="none" stroke="#000" stroke-width="0.80" stroke-linejoin="round" stroke-linecap="round"/>
<path d="M319.9,130.3 L321.4,131.4 L324.8,131.5" fill="none" stroke="#000" stroke-width="0.80" stroke-linejoin="round" stroke-linecap="round"/>
<path d="M245.6,380.2 L246.2,378.6" fill="none" stroke="#000" stroke-width="0.80" stroke-linejoin="round" stroke-linecap="round"/>
<circle cx="246.8" cy="376.9" r="0.5" fill="#000"/>
<path d="M118.2,175.8 L116.6,178.4 L117.6,180.0 L115.4,182.6 L116.8,184.0 L114.4,187.2 L115.6,188.6 L113.6,191.4 L114.8,193.0 L113.0,195.6 L113.8,197.6" fill="none" stroke="#000" stroke-width="0.60" stroke-linejoin="round" stroke-linecap="round"/>
<path d="M111.2,199.6 L114.6,196.8 L116.4,198.4 L113.2,201.4 L116.6,201.8 L114.2,204.4 L117.0,205.2 L114.4,207.8 L116.8,208.6 L113.4,211.4 L115.8,212.4 L112.0,215.4 L114.4,216.6 L110.4,219.4 L113.0,220.6 L109.6,223.4 L111.6,225.0 L108.0,227.4 L110.4,229.0 L107.6,231.4" fill="none" stroke="#000" stroke-width="0.60" stroke-linejoin="round" stroke-linecap="round"/>
<path d="M108.2,205.6 L112.6,200.6 L112.2,206.8 L108.2,205.6 Z" fill="none" stroke="#000" stroke-width="0.60" stroke-linejoin="round" stroke-linecap="round"/>
<path d="M106.8,229.0 L104.6,225.4 L105.6,221.6 L107.6,219.4 L106.4,222.6 L107.6,226.4" fill="none" stroke="#000" stroke-width="0.60" stroke-linejoin="round" stroke-linecap="round"/>
<ellipse cx="129.6" cy="285.7" rx="1.2" ry="1.3" fill="none" stroke="#000" stroke-width="0.6"/>
<ellipse cx="119" cy="248" rx="0.7" ry="0.9" fill="none" stroke="#000" stroke-width="0.5"/>
</g>
<g clip-path="url(#ax)">
<line x1="236.4" y1="115.0" x2="228.7" y2="107.9" stroke="#000" stroke-width="0.75"/>
<line x1="240.2" y1="115.5" x2="242.2" y2="108.4" stroke="#000" stroke-width="0.75"/>
<line x1="248.9" y1="112.7" x2="254.4" y2="107.0" stroke="#000" stroke-width="0.75"/>
<line x1="243.7" y1="131.2" x2="252.3" y2="124.7" stroke="#000" stroke-width="0.75"/>
<line x1="247.8" y1="133.6" x2="255.0" y2="134.4" stroke="#000" stroke-width="0.75"/>
<line x1="263.2" y1="151.8" x2="259.0" y2="148.7" stroke="#000" stroke-width="0.75"/>
<line x1="230.8" y1="156.3" x2="234.9" y2="153.5" stroke="#000" stroke-width="0.75"/>
<line x1="216.6" y1="160.3" x2="210.5" y2="163.3" stroke="#000" stroke-width="0.75"/>
<line x1="217.6" y1="159.5" x2="219.7" y2="154.4" stroke="#000" stroke-width="0.75"/>
<line x1="266.4" y1="162.5" x2="261.0" y2="160.9" stroke="#000" stroke-width="0.75"/>
<line x1="267.7" y1="166.6" x2="263.4" y2="174.0" stroke="#000" stroke-width="0.75"/>
<line x1="271.3" y1="164.9" x2="275.0" y2="157.4" stroke="#000" stroke-width="0.75"/>
<line x1="281.5" y1="164.4" x2="287.2" y2="157.0" stroke="#000" stroke-width="0.75"/>
<line x1="296.6" y1="165.4" x2="310.5" y2="164.0" stroke="#000" stroke-width="0.75"/>
<line x1="296.4" y1="166.1" x2="310.8" y2="157.3" stroke="#000" stroke-width="0.75"/>
<line x1="296.1" y1="163.6" x2="300.5" y2="156.6" stroke="#000" stroke-width="0.75"/>
<line x1="291.6" y1="173.4" x2="295.7" y2="180.3" stroke="#000" stroke-width="0.75"/>
<line x1="310.2" y1="171.7" x2="317.1" y2="180.6" stroke="#000" stroke-width="0.75"/>
<line x1="227.5" y1="183.9" x2="233.8" y2="180.4" stroke="#000" stroke-width="0.75"/>
<line x1="212.2" y1="173.8" x2="219.1" y2="172.1" stroke="#000" stroke-width="0.75"/>
<line x1="209.3" y1="183.6" x2="204.6" y2="180.6" stroke="#000" stroke-width="0.75"/>
<line x1="204.1" y1="195.2" x2="198.8" y2="200.0" stroke="#000" stroke-width="0.75"/>
<line x1="204.1" y1="256.7" x2="214.8" y2="253.0" stroke="#000" stroke-width="0.75"/>
<line x1="205.4" y1="262.1" x2="213.3" y2="267.6" stroke="#000" stroke-width="0.75"/>
<line x1="201.6" y1="264.2" x2="192.1" y2="269.6" stroke="#000" stroke-width="0.75"/>
<use href="#st" x="274.0" y="104.6" fill="#f3f1f8" stroke="#111" stroke-width="0.75" stroke-linejoin="miter"/>
<use href="#st" x="236.4" y="115.0" fill="#d4d3e8" stroke="#111" stroke-width="0.75" stroke-linejoin="miter"/>
<use href="#st" x="240.2" y="115.5" fill="#aeadd3" stroke="#111" stroke-width="0.75" stroke-linejoin="miter"/>
<use href="#st" x="248.9" y="112.7" fill="#f6f4fa" stroke="#111" stroke-width="0.75" stroke-linejoin="miter"/>
<use href="#st" x="243.7" y="131.2" fill="#6c61ae" stroke="#111" stroke-width="0.75" stroke-linejoin="miter"/>
<use href="#st" x="247.8" y="133.6" fill="#b0afd4" stroke="#111" stroke-width="0.75" stroke-linejoin="miter"/>
<use href="#st" x="265.8" y="142.3" fill="#7468b2" stroke="#111" stroke-width="0.75" stroke-linejoin="miter"/>
<use href="#st" x="263.2" y="151.8" fill="#f8f6fb" stroke="#111" stroke-width="0.75" stroke-linejoin="miter"/>
<use href="#st" x="230.8" y="156.3" fill="#f6f4fa" stroke="#111" stroke-width="0.75" stroke-linejoin="miter"/>
<use href="#st" x="216.6" y="160.3" fill="#9692c4" stroke="#111" stroke-width="0.75" stroke-linejoin="miter"/>
<use href="#st" x="217.6" y="159.5" fill="#8480bc" stroke="#111" stroke-width="0.75" stroke-linejoin="miter"/>
<use href="#st" x="266.4" y="162.5" fill="#dcdcec" stroke="#111" stroke-width="0.75" stroke-linejoin="miter"/>
<use href="#st" x="267.7" y="166.6" fill="#d0d0e6" stroke="#111" stroke-width="0.75" stroke-linejoin="miter"/>
<use href="#st" x="271.3" y="164.9" fill="#dedded" stroke="#111" stroke-width="0.75" stroke-linejoin="miter"/>
<use href="#st" x="281.5" y="164.4" fill="#f4f2f9" stroke="#111" stroke-width="0.75" stroke-linejoin="miter"/>
<use href="#st" x="296.6" y="165.4" fill="#9a96c6" stroke="#111" stroke-width="0.75" stroke-linejoin="miter"/>
<use href="#st" x="296.4" y="166.1" fill="#7e77b6" stroke="#111" stroke-width="0.75" stroke-linejoin="miter"/>
<use href="#st" x="296.1" y="163.6" fill="#5a3a9b" stroke="#111" stroke-width="0.75" stroke-linejoin="miter"/>
<use href="#st" x="291.6" y="173.4" fill="#f2f0f7" stroke="#111" stroke-width="0.75" stroke-linejoin="miter"/>
<use href="#st" x="310.2" y="171.7" fill="#efedf5" stroke="#111" stroke-width="0.75" stroke-linejoin="miter"/>
<use href="#st" x="279.1" y="182.6" fill="#45098a" stroke="#111" stroke-width="0.75" stroke-linejoin="miter"/>
<use href="#st" x="227.5" y="183.9" fill="#43077f" stroke="#111" stroke-width="0.75" stroke-linejoin="miter"/>
<use href="#st" x="212.2" y="173.8" fill="#c2c2df" stroke="#111" stroke-width="0.75" stroke-linejoin="miter"/>
<use href="#st" x="209.3" y="183.6" fill="#b0afd4" stroke="#111" stroke-width="0.75" stroke-linejoin="miter"/>
<use href="#st" x="220.1" y="189.1" fill="#6d5aab" stroke="#111" stroke-width="0.75" stroke-linejoin="miter"/>
<use href="#st" x="204.1" y="195.2" fill="#aaa8d0" stroke="#111" stroke-width="0.75" stroke-linejoin="miter"/>
<use href="#st" x="226.0" y="200.6" fill="#52238d" stroke="#111" stroke-width="0.75" stroke-linejoin="miter"/>
<use href="#st" x="227.5" y="210.2" fill="#56309a" stroke="#111" stroke-width="0.75" stroke-linejoin="miter"/>
<use href="#st" x="162.7" y="173.8" fill="#f8f6fb" stroke="#111" stroke-width="0.75" stroke-linejoin="miter"/>
<use href="#st" x="156.3" y="179.0" fill="#8683bd" stroke="#111" stroke-width="0.75" stroke-linejoin="miter"/>
<use href="#st" x="181.4" y="170.6" fill="#9c98c7" stroke="#111" stroke-width="0.75" stroke-linejoin="miter"/>
<use href="#st" x="175.7" y="174.2" fill="#cfcfe5" stroke="#111" stroke-width="0.75" stroke-linejoin="miter"/>
<use href="#st" x="184.3" y="173.4" fill="#8e8bc1" stroke="#111" stroke-width="0.75" stroke-linejoin="miter"/>
<use href="#st" x="136.8" y="201.7" fill="#a4a1cc" stroke="#111" stroke-width="0.75" stroke-linejoin="miter"/>
<use href="#st" x="172.0" y="206.9" fill="#f8f6fb" stroke="#111" stroke-width="0.75" stroke-linejoin="miter"/>
<use href="#st" x="204.9" y="229.6" fill="#8480bc" stroke="#111" stroke-width="0.75" stroke-linejoin="miter"/>
<use href="#st" x="154.3" y="240.2" fill="#8a87bf" stroke="#111" stroke-width="0.75" stroke-linejoin="miter"/>
<use href="#st" x="166.8" y="241.5" fill="#faf8fc" stroke="#111" stroke-width="0.75" stroke-linejoin="miter"/>
<use href="#st" x="181.1" y="245.8" fill="#e4e3f0" stroke="#111" stroke-width="0.75" stroke-linejoin="miter"/>
<use href="#st" x="142.5" y="242.9" fill="#c0c0de" stroke="#111" stroke-width="0.75" stroke-linejoin="miter"/>
<use href="#st" x="157.6" y="258.0" fill="#5a3a9b" stroke="#111" stroke-width="0.75" stroke-linejoin="miter"/>
<use href="#st" x="204.1" y="256.7" fill="#7f79b8" stroke="#111" stroke-width="0.75" stroke-linejoin="miter"/>
<use href="#st" x="205.4" y="262.1" fill="#8884be" stroke="#111" stroke-width="0.75" stroke-linejoin="miter"/>
<use href="#st" x="201.6" y="264.2" fill="#9b97c6" stroke="#111" stroke-width="0.75" stroke-linejoin="miter"/>
<use href="#st" x="256.4" y="266.1" fill="#5a3a9b" stroke="#111" stroke-width="0.75" stroke-linejoin="miter"/>
<use href="#st" x="204.9" y="292.6" fill="#c3b4d8" stroke="#111" stroke-width="0.75" stroke-linejoin="miter"/>
<text class="lab" x="282.2" y="100.0">46</text>
<text class="lab" x="225.4" y="107.8">18</text>
<text class="lab" x="243.4" y="106.9">10</text>
<text class="lab" x="257.5" y="106.6">37</text>
<text class="lab" x="255.9" y="124.8">44</text>
<text class="lab" x="259.5" y="137.8">7</text>
<text class="lab" x="275.3" y="137.2">17</text>
<text class="lab" x="255.4" y="148.8">9</text>
<text class="lab" x="238.6" y="153.8">39</text>
<text class="lab" x="206.5" y="168.2">43</text>
<text class="lab" x="221.5" y="153.2">6</text>
<text class="lab" x="256.7" y="162.4">23</text>
<text class="lab" x="261.1" y="180.8">19</text>
<text class="lab" x="277.0" y="156.2">11</text>
<text class="lab" x="289.9" y="156.2">35</text>
<text class="lab" x="315.0" y="166.4">30</text>
<text class="lab" x="314.6" y="157.8">21</text>
<text class="lab" x="302.9" y="155.7">40</text>
<text class="lab" x="298.0" y="187.0">16</text>
<text class="lab" x="319.9" y="187.0">8</text>
<text class="lab" x="279.9" y="192.8">41</text>
<text class="lab" x="237.7" y="181.0">34</text>
<text class="lab" x="223.5" y="173.9">45</text>
<text class="lab" x="200.8" y="181.0">32</text>
<text class="lab" x="214.9" y="201.8">24</text>
<text class="lab" x="195.5" y="205.8">31</text>
<text class="lab" x="236.2" y="203.4">13</text>
<text class="lab" x="235.7" y="213.8">3</text>
<text class="lab" x="166.5" y="170.5">1</text>
<text class="lab" x="148.2" y="186.4">25</text>
<text class="lab" x="182.7" y="166.0">28</text>
<text class="lab" x="172.0" y="183.8">29</text>
<text class="lab" x="187.2" y="183.8">4</text>
<text class="lab" x="140.0" y="198.4">2</text>
<text class="lab" x="176.0" y="203.8">5</text>
<text class="lab" x="214.3" y="233.2">14</text>
<text class="lab" x="158.7" y="236.5">26</text>
<text class="lab" x="173.6" y="238.9">42</text>
<text class="lab" x="187.9" y="243.3">20</text>
<text class="lab" x="135.8" y="254.3">36</text>
<text class="lab" x="153.0" y="269.2">27</text>
<text class="lab" x="219.0" y="254.3">15</text>
<text class="lab" x="217.0" y="273.1">33</text>
<text class="lab" x="188.2" y="274.7">38</text>
<text class="lab" x="264.3" y="263.8">22</text>
<text class="lab" x="211.9" y="290.2">12</text>
</g>
<rect x="29.00" y="16.50" width="295.60" height="368.00" fill="none" stroke="#222" stroke-width="0.75"/>
<line x1="29.00" y1="384.50" x2="29.00" y2="387.30" stroke="#222" stroke-width="0.8"/>
<text x="29.00" y="396.30" text-anchor="middle" style="font-size:8.8px">119</text>
<line x1="65.95" y1="384.50" x2="65.95" y2="387.30" stroke="#222" stroke-width="0.8"/>
<text x="65.95" y="396.30" text-anchor="middle" style="font-size:8.8px">119.5</text>
<line x1="102.90" y1="384.50" x2="102.90" y2="387.30" stroke="#222" stroke-width="0.8"/>
<text x="102.90" y="396.30" text-anchor="middle" style="font-size:8.8px">120</text>
<line x1="139.85" y1="384.50" x2="139.85" y2="387.30" stroke="#222" stroke-width="0.8"/>
<text x="139.85" y="396.30" text-anchor="middle" style="font-size:8.8px">120.5</text>
<line x1="176.80" y1="384.50" x2="176.80" y2="387.30" stroke="#222" stroke-width="0.8"/>
<text x="176.80" y="396.30" text-anchor="middle" style="font-size:8.8px">121</text>
<line x1="213.75" y1="384.50" x2="213.75" y2="387.30" stroke="#222" stroke-width="0.8"/>
<text x="213.75" y="396.30" text-anchor="middle" style="font-size:8.8px">121.5</text>
<line x1="250.70" y1="384.50" x2="250.70" y2="387.30" stroke="#222" stroke-width="0.8"/>
<text x="250.70" y="396.30" text-anchor="middle" style="font-size:8.8px">122</text>
<line x1="287.65" y1="384.50" x2="287.65" y2="387.30" stroke="#222" stroke-width="0.8"/>
<text x="287.65" y="396.30" text-anchor="middle" style="font-size:8.8px">122.5</text>
<line x1="324.60" y1="384.50" x2="324.60" y2="387.30" stroke="#222" stroke-width="0.8"/>
<text x="324.60" y="396.30" text-anchor="middle" style="font-size:8.8px">123</text>
<line x1="26.20" y1="16.50" x2="29.00" y2="16.50" stroke="#222" stroke-width="0.8"/>
<text x="24.40" y="19.75" text-anchor="end" style="font-size:8.8px">26</text>
<line x1="26.20" y1="90.10" x2="29.00" y2="90.10" stroke="#222" stroke-width="0.8"/>
<text x="24.40" y="93.35" text-anchor="end" style="font-size:8.8px">25</text>
<line x1="26.20" y1="163.70" x2="29.00" y2="163.70" stroke="#222" stroke-width="0.8"/>
<text x="24.40" y="166.95" text-anchor="end" style="font-size:8.8px">24</text>
<line x1="26.20" y1="237.30" x2="29.00" y2="237.30" stroke="#222" stroke-width="0.8"/>
<text x="24.40" y="240.55" text-anchor="end" style="font-size:8.8px">23</text>
<line x1="26.20" y1="310.90" x2="29.00" y2="310.90" stroke="#222" stroke-width="0.8"/>
<text x="24.40" y="314.15" text-anchor="end" style="font-size:8.8px">22</text>
<line x1="26.20" y1="384.50" x2="29.00" y2="384.50" stroke="#222" stroke-width="0.8"/>
<text x="24.40" y="387.75" text-anchor="end" style="font-size:8.8px">21</text>
<text x="176.80" y="408.4" text-anchor="middle" style="font-size:10.45px">Longitude(°E)</text>
<text transform="translate(7.7,200.50) rotate(-90)" text-anchor="middle" style="font-size:10.45px">Latitude(°N)</text>
<text x="176.80" y="11.7" text-anchor="middle" style="font-size:11.9px">Spatial distribution of M<tspan class="i" dy="1.8" style="font-size:8.3px">L</tspan><tspan dy="-1.8"> ≥ 6.0 in 1999-2021</tspan></text>
<text class="b" x="7.3" y="9.6" style="font-size:13.1px">(a)</text>
<text x="47.5" y="233" text-anchor="middle" style="font-size:10.45px">Depth</text>
<text x="47.5" y="244.4" text-anchor="middle" style="font-size:10.45px">(km)</text>
<rect x="41.3" y="249.7" width="12.6" height="100.5" fill="url(#purp)" stroke="#222" stroke-width="0.6"/>
<line x1="53.9" y1="249.70" x2="56.8" y2="249.70" stroke="#000" stroke-width="0.7"/>
<text x="59" y="252.40" style="font-size:7.2px">0</text>
<line x1="53.9" y1="274.82" x2="56.8" y2="274.82" stroke="#000" stroke-width="0.7"/>
<text x="59" y="277.52" style="font-size:7.2px">10</text>
<line x1="53.9" y1="299.94" x2="56.8" y2="299.94" stroke="#000" stroke-width="0.7"/>
<text x="59" y="302.64" style="font-size:7.2px">20</text>
<line x1="53.9" y1="325.06" x2="56.8" y2="325.06" stroke="#000" stroke-width="0.7"/>
<text x="59" y="327.76" style="font-size:7.2px">30</text>
<line x1="53.9" y1="350.18" x2="56.8" y2="350.18" stroke="#000" stroke-width="0.7"/>
<text x="59" y="352.88" style="font-size:7.2px">40</text>
<rect x="34.5" y="360.5" width="151" height="18.3" rx="2" ry="2" fill="#fff" fill-opacity="0.8" stroke="#ccc" stroke-width="0.8"/>
<use href="#st" x="48.5" y="370.3" fill="#fff" stroke="#111" stroke-width="0.75"/>
<text x="67.3" y="372.7" style="font-size:10.45px">46 M<tspan class="i" dy="1.5" style="font-size:7.3px">L</tspan><tspan dy="-1.5">≥6 earthquakes</tspan></text>
<text x="290.5" y="234.8" text-anchor="middle" style="font-size:10.45px"><tspan class="i">b</tspan>-value</text>
<rect x="284.9" y="243.1" width="12.1" height="133" fill="url(#jet)" stroke="#222" stroke-width="0.6"/>
<line x1="297" y1="243.10" x2="299.9" y2="243.10" stroke="#000" stroke-width="0.7"/>
<text x="302" y="245.80" style="font-size:7.2px">2.00</text>
<line x1="297" y1="259.73" x2="299.9" y2="259.73" stroke="#000" stroke-width="0.7"/>
<text x="302" y="262.43" style="font-size:7.2px">1.75</text>
<line x1="297" y1="276.35" x2="299.9" y2="276.35" stroke="#000" stroke-width="0.7"/>
<text x="302" y="279.05" style="font-size:7.2px">1.50</text>
<line x1="297" y1="292.98" x2="299.9" y2="292.98" stroke="#000" stroke-width="0.7"/>
<text x="302" y="295.68" style="font-size:7.2px">1.25</text>
<line x1="297" y1="309.60" x2="299.9" y2="309.60" stroke="#000" stroke-width="0.7"/>
<text x="302" y="312.30" style="font-size:7.2px">1.00</text>
<line x1="297" y1="326.23" x2="299.9" y2="326.23" stroke="#000" stroke-width="0.7"/>
<text x="302" y="328.93" style="font-size:7.2px">0.75</text>
<line x1="297" y1="342.85" x2="299.9" y2="342.85" stroke="#000" stroke-width="0.7"/>
<text x="302" y="345.55" style="font-size:7.2px">0.50</text>
<line x1="297" y1="359.48" x2="299.9" y2="359.48" stroke="#000" stroke-width="0.7"/>
<text x="302" y="362.18" style="font-size:7.2px">0.25</text>
<line x1="297" y1="376.10" x2="299.9" y2="376.10" stroke="#000" stroke-width="0.7"/>
<text x="302" y="378.80" style="font-size:7.2px">0.00</text>
<text class="b" x="342.3" y="86.1" style="font-size:13.1px">(b)</text>
<line x1="412.64" y1="94.70" x2="412.64" y2="306.20" stroke="#b0b0b0" stroke-width="0.8"/>
<line x1="471.58" y1="94.70" x2="471.58" y2="306.20" stroke="#b0b0b0" stroke-width="0.8"/>
<line x1="530.52" y1="94.70" x2="530.52" y2="306.20" stroke="#b0b0b0" stroke-width="0.8"/>
<line x1="589.46" y1="94.70" x2="589.46" y2="306.20" stroke="#b0b0b0" stroke-width="0.8"/>
<line x1="355.50" y1="172.90" x2="412.64" y2="172.90" stroke="#000" stroke-width="1.3" stroke-dasharray="3.45 1.45"/>
<line x1="355.50" y1="225.70" x2="412.64" y2="225.70" stroke="#000" stroke-width="1.3" stroke-dasharray="3.45 1.45"/>
<line x1="353.70" y1="199.30" x2="412.64" y2="199.30" stroke="#000" stroke-width="1.3"/>
<rect x="371.47" y="194.30" width="23.4" height="10" fill="#fff"/>
<text x="383.17" y="202.90" text-anchor="middle" style="font-size:9.7px">0.91</text>
<line x1="412.94" y1="174.80" x2="471.58" y2="174.80" stroke="#000" stroke-width="1.3" stroke-dasharray="3.45 1.45"/>
<line x1="412.94" y1="241.10" x2="471.58" y2="241.10" stroke="#000" stroke-width="1.3" stroke-dasharray="3.45 1.45"/>
<line x1="412.64" y1="208.20" x2="471.58" y2="208.20" stroke="#000" stroke-width="1.3"/>
<rect x="430.41" y="203.20" width="23.4" height="10" fill="#fff"/>
<text x="442.11" y="211.80" text-anchor="middle" style="font-size:9.7px">0.86</text>
<line x1="471.88" y1="179.90" x2="530.52" y2="179.90" stroke="#000" stroke-width="1.3" stroke-dasharray="3.45 1.45"/>
<line x1="471.88" y1="237.80" x2="530.52" y2="237.80" stroke="#000" stroke-width="1.3" stroke-dasharray="3.45 1.45"/>
<line x1="471.58" y1="209.20" x2="530.52" y2="209.20" stroke="#000" stroke-width="1.3"/>
<rect x="489.35" y="204.20" width="23.4" height="10" fill="#fff"/>
<text x="501.05" y="212.80" text-anchor="middle" style="font-size:9.7px">0.85</text>
<line x1="530.82" y1="182.40" x2="589.46" y2="182.40" stroke="#000" stroke-width="1.3" stroke-dasharray="3.45 1.45"/>
<line x1="530.82" y1="243.90" x2="589.46" y2="243.90" stroke="#000" stroke-width="1.3" stroke-dasharray="3.45 1.45"/>
<line x1="530.52" y1="213.30" x2="589.46" y2="213.30" stroke="#000" stroke-width="1.3"/>
<rect x="548.29" y="208.30" width="23.4" height="10" fill="#fff"/>
<text x="559.99" y="216.90" text-anchor="middle" style="font-size:9.7px">0.83</text>
<line x1="589.76" y1="188.40" x2="648.40" y2="188.40" stroke="#000" stroke-width="1.3" stroke-dasharray="3.45 1.45"/>
<line x1="589.76" y1="240.20" x2="648.40" y2="240.20" stroke="#000" stroke-width="1.3" stroke-dasharray="3.45 1.45"/>
<line x1="589.46" y1="214.20" x2="648.40" y2="214.20" stroke="#000" stroke-width="1.3"/>
<rect x="607.23" y="209.20" width="23.4" height="10" fill="#fff"/>
<text x="618.93" y="217.80" text-anchor="middle" style="font-size:9.7px">0.82</text>
<rect x="353.70" y="94.70" width="294.70" height="211.50" fill="none" stroke="#000" stroke-width="0.8"/>
<line x1="353.70" y1="306.20" x2="353.70" y2="309.00" stroke="#000" stroke-width="0.8"/>
<text class="tk" x="353.70" y="319.8" text-anchor="middle">5</text>
<line x1="412.64" y1="306.20" x2="412.64" y2="309.00" stroke="#000" stroke-width="0.8"/>
<text class="tk" x="412.64" y="319.8" text-anchor="middle">4</text>
<line x1="471.58" y1="306.20" x2="471.58" y2="309.00" stroke="#000" stroke-width="0.8"/>
<text class="tk" x="471.58" y="319.8" text-anchor="middle">3</text>
<line x1="530.52" y1="306.20" x2="530.52" y2="309.00" stroke="#000" stroke-width="0.8"/>
<text class="tk" x="530.52" y="319.8" text-anchor="middle">2</text>
<line x1="589.46" y1="306.20" x2="589.46" y2="309.00" stroke="#000" stroke-width="0.8"/>
<text class="tk" x="589.46" y="319.8" text-anchor="middle">1</text>
<line x1="648.40" y1="288.57" x2="651.20" y2="288.57" stroke="#000" stroke-width="0.8"/>
<text class="tk" x="653.6" y="292.38">0.4</text>
<line x1="648.40" y1="253.32" x2="651.20" y2="253.32" stroke="#000" stroke-width="0.8"/>
<text class="tk" x="653.6" y="257.12">0.6</text>
<line x1="648.40" y1="218.07" x2="651.20" y2="218.07" stroke="#000" stroke-width="0.8"/>
<text class="tk" x="653.6" y="221.88">0.8</text>
<line x1="648.40" y1="182.82" x2="651.20" y2="182.82" stroke="#000" stroke-width="0.8"/>
<text class="tk" x="653.6" y="186.62">1.0</text>
<line x1="648.40" y1="147.57" x2="651.20" y2="147.57" stroke="#000" stroke-width="0.8"/>
<text class="tk" x="653.6" y="151.38">1.2</text>
<line x1="648.40" y1="112.32" x2="651.20" y2="112.32" stroke="#000" stroke-width="0.8"/>
<text class="tk" x="653.6" y="116.12">1.4</text>
<text x="367.5" y="110.9" style="font-size:10.45px">Mean of <tspan class="i">b</tspan>-value per year before M<tspan class="i" dy="1.5" style="font-size:7.3px">L</tspan><tspan dy="-1.5">≥6 earthquakes</tspan></text>
<text x="501.05" y="332.2" text-anchor="middle" style="font-size:10.45px">the years before M<tspan class="i" dy="1.5" style="font-size:7.3px">L</tspan><tspan dy="-1.5">≥6 Earthquakes</tspan></text>
<text transform="translate(677,200.45) rotate(90)" text-anchor="middle" style="font-size:10.45px"><tspan class="i">b</tspan>-value</text>
</svg></body></html>
